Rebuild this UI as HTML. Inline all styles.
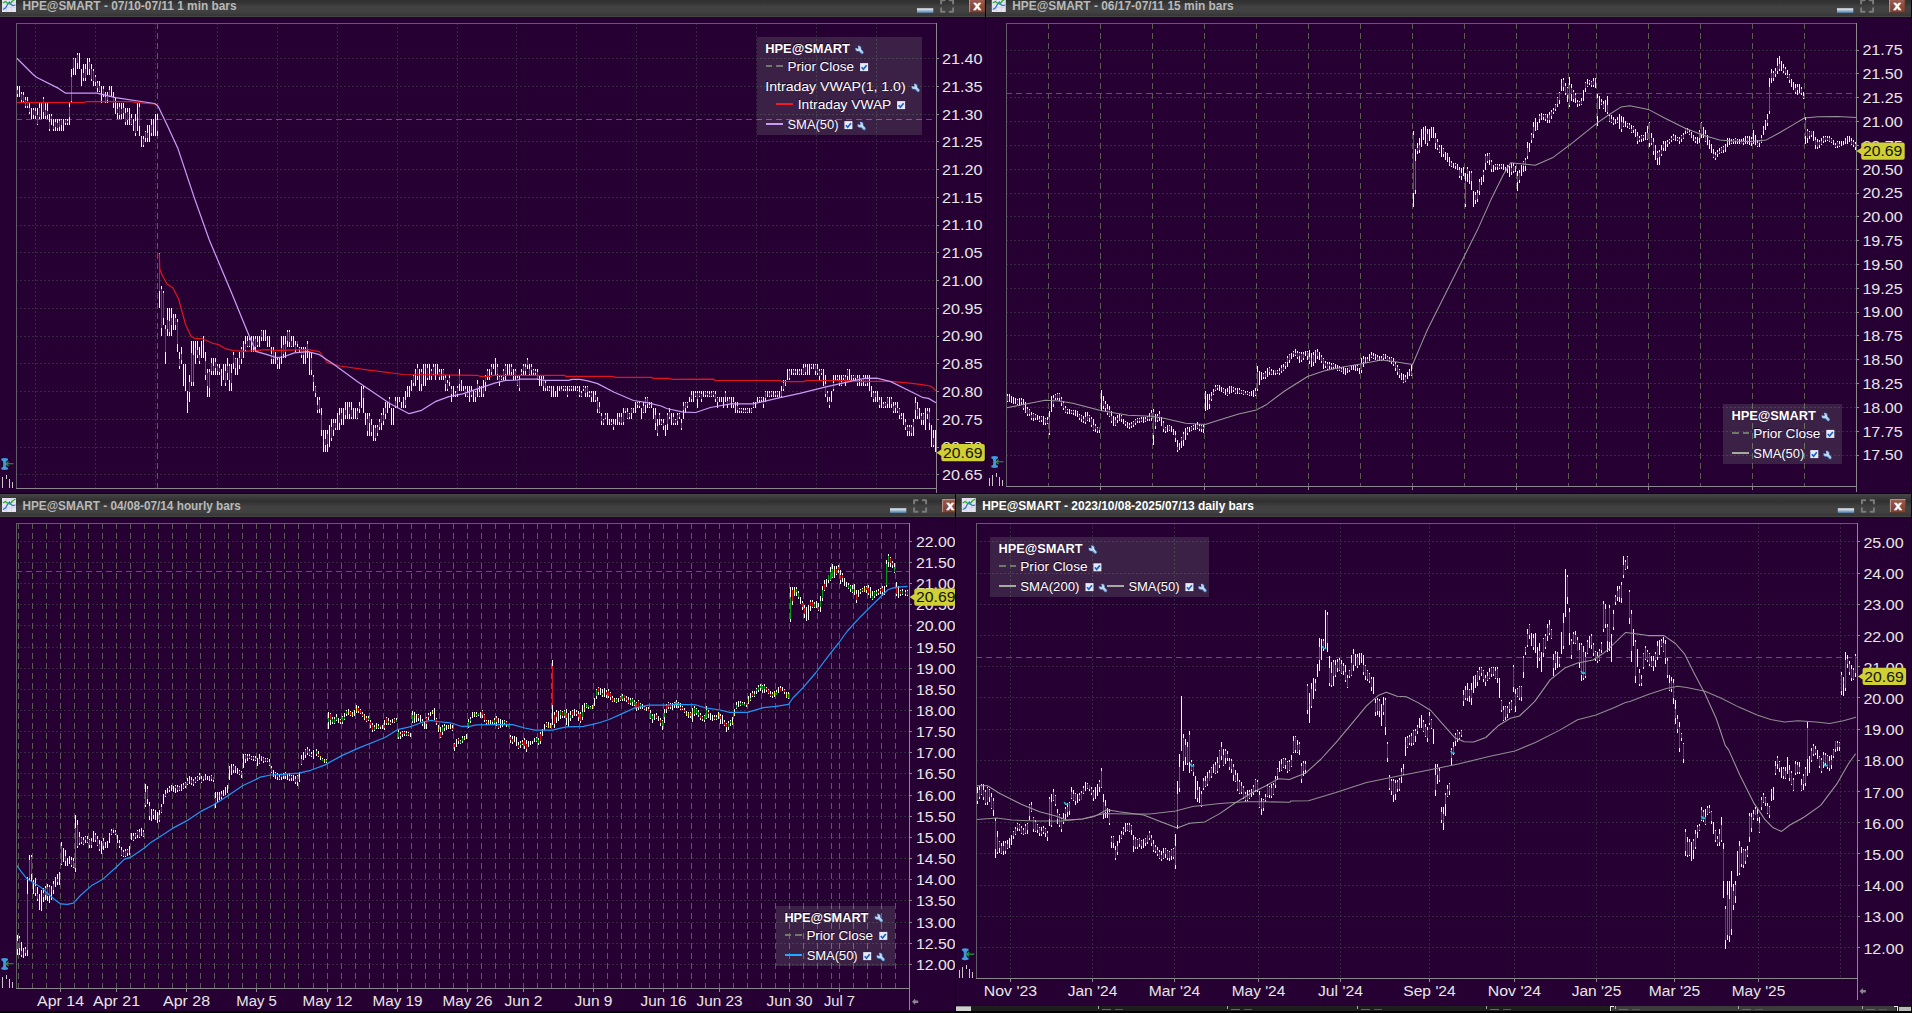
<!DOCTYPE html><html><head><meta charset="utf-8"><title>HPE charts</title><style>html,body{margin:0;padding:0;background:#260033;overflow:hidden}svg{display:block}text{font-family:"Liberation Sans", sans-serif;white-space:pre}</style></head><body>
<svg width="1912" height="1013" viewBox="0 0 1912 1013">
<rect x="0" y="0" width="1912" height="1013" fill="#260033" />
<defs><clipPath id="clip3"><rect x="0" y="494" width="955" height="519"/></clipPath></defs>
<line x1="16" y1="58.5" x2="936" y2="58.5" stroke="#35283f" stroke-width="1" stroke-dasharray="2 2" shape-rendering="crispEdges"/>
<line x1="16" y1="86.5" x2="936" y2="86.5" stroke="#35283f" stroke-width="1" stroke-dasharray="2 2" shape-rendering="crispEdges"/>
<line x1="16" y1="114.5" x2="936" y2="114.5" stroke="#35283f" stroke-width="1" stroke-dasharray="2 2" shape-rendering="crispEdges"/>
<line x1="16" y1="141.5" x2="936" y2="141.5" stroke="#35283f" stroke-width="1" stroke-dasharray="2 2" shape-rendering="crispEdges"/>
<line x1="16" y1="169.5" x2="936" y2="169.5" stroke="#35283f" stroke-width="1" stroke-dasharray="2 2" shape-rendering="crispEdges"/>
<line x1="16" y1="197.5" x2="936" y2="197.5" stroke="#35283f" stroke-width="1" stroke-dasharray="2 2" shape-rendering="crispEdges"/>
<line x1="16" y1="225.5" x2="936" y2="225.5" stroke="#35283f" stroke-width="1" stroke-dasharray="2 2" shape-rendering="crispEdges"/>
<line x1="16" y1="252.5" x2="936" y2="252.5" stroke="#35283f" stroke-width="1" stroke-dasharray="2 2" shape-rendering="crispEdges"/>
<line x1="16" y1="280.5" x2="936" y2="280.5" stroke="#35283f" stroke-width="1" stroke-dasharray="2 2" shape-rendering="crispEdges"/>
<line x1="16" y1="308.5" x2="936" y2="308.5" stroke="#35283f" stroke-width="1" stroke-dasharray="2 2" shape-rendering="crispEdges"/>
<line x1="16" y1="336.5" x2="936" y2="336.5" stroke="#35283f" stroke-width="1" stroke-dasharray="2 2" shape-rendering="crispEdges"/>
<line x1="16" y1="363.5" x2="936" y2="363.5" stroke="#35283f" stroke-width="1" stroke-dasharray="2 2" shape-rendering="crispEdges"/>
<line x1="16" y1="391.5" x2="936" y2="391.5" stroke="#35283f" stroke-width="1" stroke-dasharray="2 2" shape-rendering="crispEdges"/>
<line x1="16" y1="419.5" x2="936" y2="419.5" stroke="#35283f" stroke-width="1" stroke-dasharray="2 2" shape-rendering="crispEdges"/>
<line x1="16" y1="447.5" x2="936" y2="447.5" stroke="#35283f" stroke-width="1" stroke-dasharray="2 2" shape-rendering="crispEdges"/>
<line x1="16" y1="474.5" x2="936" y2="474.5" stroke="#35283f" stroke-width="1" stroke-dasharray="2 2" shape-rendering="crispEdges"/>
<line x1="35.5" y1="23" x2="35.5" y2="488" stroke="#35283f" stroke-width="1" stroke-dasharray="2 2" shape-rendering="crispEdges"/>
<line x1="95.5" y1="23" x2="95.5" y2="488" stroke="#35283f" stroke-width="1" stroke-dasharray="2 2" shape-rendering="crispEdges"/>
<line x1="155.5" y1="23" x2="155.5" y2="488" stroke="#35283f" stroke-width="1" stroke-dasharray="2 2" shape-rendering="crispEdges"/>
<line x1="217.5" y1="23" x2="217.5" y2="488" stroke="#35283f" stroke-width="1" stroke-dasharray="2 2" shape-rendering="crispEdges"/>
<line x1="277.5" y1="23" x2="277.5" y2="488" stroke="#35283f" stroke-width="1" stroke-dasharray="2 2" shape-rendering="crispEdges"/>
<line x1="337.5" y1="23" x2="337.5" y2="488" stroke="#35283f" stroke-width="1" stroke-dasharray="2 2" shape-rendering="crispEdges"/>
<line x1="397.5" y1="23" x2="397.5" y2="488" stroke="#35283f" stroke-width="1" stroke-dasharray="2 2" shape-rendering="crispEdges"/>
<line x1="457.5" y1="23" x2="457.5" y2="488" stroke="#35283f" stroke-width="1" stroke-dasharray="2 2" shape-rendering="crispEdges"/>
<line x1="516.5" y1="23" x2="516.5" y2="488" stroke="#35283f" stroke-width="1" stroke-dasharray="2 2" shape-rendering="crispEdges"/>
<line x1="576.5" y1="23" x2="576.5" y2="488" stroke="#35283f" stroke-width="1" stroke-dasharray="2 2" shape-rendering="crispEdges"/>
<line x1="636.5" y1="23" x2="636.5" y2="488" stroke="#35283f" stroke-width="1" stroke-dasharray="2 2" shape-rendering="crispEdges"/>
<line x1="696.5" y1="23" x2="696.5" y2="488" stroke="#35283f" stroke-width="1" stroke-dasharray="2 2" shape-rendering="crispEdges"/>
<line x1="756.5" y1="23" x2="756.5" y2="488" stroke="#35283f" stroke-width="1" stroke-dasharray="2 2" shape-rendering="crispEdges"/>
<line x1="816.5" y1="23" x2="816.5" y2="488" stroke="#35283f" stroke-width="1" stroke-dasharray="2 2" shape-rendering="crispEdges"/>
<line x1="876.5" y1="23" x2="876.5" y2="488" stroke="#35283f" stroke-width="1" stroke-dasharray="2 2" shape-rendering="crispEdges"/>
<line x1="157.5" y1="23" x2="157.5" y2="488" stroke="#5b5b53" stroke-width="1" stroke-dasharray="6 4" shape-rendering="crispEdges"/>
<line x1="16" y1="119.5" x2="936" y2="119.5" stroke="#585a50" stroke-width="1" stroke-dasharray="6 4" shape-rendering="crispEdges"/>
<path d="M17 86v11M19 86v11M21 92v11M23 92v11M25 97v11M27 97v11M29 103v11M31 108v11M33 108v11M35 108v11M37 108v17M39 103v16M41 103v16M43 97v22M45 103v16M47 103v16M49 114v17M51 114v11M53 119v12M55 119v12M57 119v12M59 119v12M61 119v12M63 119v12M65 119v6M67 119v6M69 103v22M71 69v34M73 58v17M75 58v17M77 53v16M79 53v16M81 69v17M83 64v17M85 64v17M87 58v17M89 58v17M91 64v17M93 69v17M95 75v11M97 81v11M99 81v11M101 86v17M103 86v11M105 92v11M107 92v11M109 86v11M111 86v11M113 92v16M115 97v17M117 103v16M119 103v16M121 103v16M123 103v16M125 108v17M127 108v17M129 108v17M131 114v11M133 119v12M135 114v22M137 103v28M139 103v33M141 136v11M143 136v11M145 131v11M147 125v17M149 125v17M151 119v17M153 119v17M155 114v22M157 114v22M159 253v55M161 286v50M163 291v34M165 325v39M167 308v28M169 308v28M171 308v28M173 314v16M175 314v16M177 319v33M179 352v17M181 347v17M183 364v22M185 364v27M187 391v22M189 375v27M191 341v45M193 341v45M195 341v23M197 341v17M199 347v17M201 341v17M203 336v22M205 352v28M207 369v28M209 369v28M211 358v17M213 358v17M215 358v17M217 364v11M219 364v11M221 369v17M223 364v16M225 364v22M227 358v22M229 364v27M231 364v27M233 352v17M235 358v17M237 358v17M239 352v17M241 347v17M243 341v17M245 336v16M247 336v11M249 336v11M251 336v16M253 336v16M255 336v16M257 336v11M259 336v11M261 330v11M263 330v11M265 330v11M267 336v11M269 336v11M271 347v17M273 347v17M275 352v12M277 358v11M279 358v11M281 336v28M283 336v22M285 336v22M287 330v17M289 330v17M291 336v11M293 336v11M295 341v11M297 341v6M299 347v5M301 347v11M303 347v17M305 347v17M307 341v17M309 352v23M311 352v23M313 375v16M315 386v11M317 397v16M319 397v16M321 408v28M323 430v22M325 430v22M327 430v22M329 425v22M331 419v22M333 419v17M335 419v11M337 413v17M339 408v22M341 408v17M343 408v17M345 402v17M347 402v17M349 402v17M351 402v17M353 408v11M355 408v11M357 408v11M359 402v11M361 386v22M363 386v27M365 413v12M367 413v23M369 413v23M371 419v17M373 425v16M375 425v16M377 425v11M379 419v11M381 413v17M383 408v17M385 402v17M387 402v11M389 397v11M391 408v17M393 408v17M395 397v11M397 397v11M399 397v5M401 402v6M403 397v11M405 391v17M407 386v11M409 386v11M411 380v11M413 375v11M415 369v17M417 364v16M419 369v22M421 369v22M423 364v22M425 364v22M427 364v16M429 364v16M431 369v11M433 364v11M435 364v16M437 364v11M439 369v11M441 369v11M443 369v11M445 375v16M447 380v11M449 375v11M451 386v16M453 386v11M455 391v6M457 386v11M459 369v22M461 380v11M463 386v5M465 386v11M467 386v11M469 386v16M471 386v11M473 391v11M475 391v11M477 380v17M479 386v11M481 386v11M483 380v17M485 375v16M487 369v11M489 369v11M491 364v11M493 364v5M495 358v17M497 364v16M499 375v11M501 375v5M503 369v11M505 364v16M507 364v11M509 364v11M511 364v11M513 369v11M515 369v11M517 375v11M519 375v16M521 369v6M523 364v11M525 364v11M527 358v11M529 364v11M531 364v11M533 369v6M535 369v6M537 369v11M539 375v11M541 375v11M543 375v16M545 380v11M547 386v5M549 386v5M551 386v11M553 386v11M555 391v6M557 386v11M559 386v5M561 386v5M563 386v5M565 386v5M567 386v11M569 386v5M571 386v5M573 386v5M575 386v5M577 386v5M579 386v11M581 391v6M583 386v5M585 386v11M587 386v11M589 391v6M591 391v11M593 391v11M595 391v11M597 397v16M599 402v11M601 413v12M603 419v6M605 413v6M607 413v12M609 419v6M611 419v6M613 419v11M615 419v6M617 413v12M619 413v12M621 413v12M623 408v17M625 408v5M627 408v11M629 413v6M631 408v11M633 408v5M635 402v11M637 402v6M639 402v6M641 408v11M643 402v11M645 397v16M647 397v11M649 402v6M651 402v6M653 408v11M655 408v22M657 419v17M659 413v12M661 419v6M663 419v11M665 425v11M667 413v17M669 408v11M671 413v12M673 413v12M675 419v6M677 413v12M679 413v6M681 419v11M683 402v17M685 402v11M687 402v6M689 397v5M691 391v11M693 391v11M695 391v6M697 391v17M699 391v6M701 391v11M703 391v6M705 391v6M707 391v6M709 391v6M711 391v6M713 391v6M715 391v11M717 397v11M719 397v5M721 397v5M723 397v11M725 391v11M727 397v11M729 397v5M731 397v11M733 397v11M735 402v11M737 402v11M739 408v5M741 408v5M743 408v5M745 408v5M747 408v5M749 408v5M751 408v5M753 402v6M755 402v6M757 397v5M759 397v5M761 397v5M763 397v11M765 391v11M767 391v6M769 391v6M771 391v6M773 391v6M775 391v6M777 391v6M779 391v6M781 386v11M783 380v11M785 380v6M787 369v11M789 369v11M791 369v6M793 369v6M795 369v6M797 369v6M799 369v6M801 369v6M803 364v11M805 364v11M807 364v11M809 364v11M811 364v5M813 364v5M815 364v11M817 364v11M819 369v11M821 369v6M823 369v17M825 375v22M827 391v11M829 397v11M831 391v11M833 375v16M835 375v5M837 375v5M839 375v11M841 375v11M843 375v5M845 375v11M847 369v11M849 369v11M851 375v5M853 375v5M855 375v5M857 375v11M859 375v11M861 380v6M863 375v11M865 375v11M867 375v11M869 375v16M871 386v11M873 391v11M875 391v11M877 391v11M879 397v11M881 397v11M883 402v6M885 402v6M887 397v11M889 397v11M891 397v11M893 402v11M895 402v11M897 402v11M899 408v11M901 413v6M903 413v12M905 419v11M907 425v11M909 425v11M911 425v11M913 419v17M915 397v22M917 402v17M919 408v11M921 413v12M923 413v12M925 408v22M927 408v11M929 408v22M931 425v22M933 430v17M935 430v22" stroke="#ffffff" stroke-width="1" fill="none" shape-rendering="crispEdges" transform="translate(0.5,0)"/>
<path d="M25 100v6M35 111v5M45 110v6M53 126v3M59 121v6M61 120v5M65 120v3M67 121v2M69 107v10M71 77v24M73 59v9M85 69v9M89 62v7M91 69v10M97 83v5M105 97v4M107 96v4M123 108v5M143 139v6M145 132v6M147 133v5M151 125v8M167 320v9M169 321v11M171 318v7M181 354v6M191 353v29M193 355v27M197 350v5M209 372v16M211 363v8M213 366v5M217 366v5M227 366v7M229 366v14M235 359v9M239 358v7M253 341v5M255 339v8M257 342v3M261 331v6M273 350v9M277 360v4M281 348v8M285 344v8M287 332v9M289 332v10M297 341v3M303 349v6M307 344v5M313 377v5M315 387v6M321 415v15M327 434v10M345 410v5M357 411v7M359 406v3M369 416v7M377 427v6M379 422v5M383 415v6M385 408v6M395 401v6M405 400v5M455 393v3M475 392v5M477 384v5M483 388v6M487 371v6M491 367v5M501 377v2M519 380v8M521 372v2M523 366v5M525 367v4M527 360v5M529 369v5M533 370v3M537 372v7M543 379v7M549 388v2M561 389v2M565 387v2M569 387v2M571 387v2M585 388v5M587 387v5M597 401v8M599 407v5M603 420v3M605 415v3M621 417v6M629 414v3M637 403v2M643 406v6M645 399v6M647 398v6M655 415v8M657 426v7M659 415v4M667 415v9M669 412v5M677 415v6M679 414v3M681 423v5M683 406v4M685 403v5M687 403v3M691 395v4M697 393v6M705 392v3M707 393v2M709 394v2M711 393v3M725 393v4M751 409v3M753 404v3M761 398v2M765 392v6M769 393v3M771 392v3M775 393v2M777 392v3M781 391v5M789 371v7M793 370v3M795 371v2M799 371v3M837 377v2M841 382v3M843 376v2M845 377v6M857 378v5M861 381v2M863 377v5M873 393v6M875 393v4M883 404v3M885 403v3M887 398v6M893 406v5M911 427v6M913 422v5M915 403v7M917 409v7M923 414v6M929 412v11" stroke="#0a9a1a" stroke-width="1" fill="none" shape-rendering="crispEdges" transform="translate(0.5,0)"/>
<path d="M17 90v4M21 94v6M23 95v6M27 101v5M29 108v4M33 110v5M37 115v9M39 108v9M43 99v13M47 111v4M49 122v7M51 116v3M55 122v5M57 123v5M77 55v8M83 73v5M93 71v10M95 77v5M99 86v5M103 89v5M109 90v6M113 97v6M117 109v4M119 107v8M121 109v5M125 113v9M127 112v8M131 118v6M135 121v12M139 107v19M157 120v11M159 259v32M161 289v39M163 293v25M165 329v23M175 318v7M177 322v22M179 359v7M189 382v10M199 355v6M205 361v14M207 373v13M215 362v6M219 368v4M225 371v12M231 373v10M233 355v8M241 349v10M245 344v6M247 341v5M249 340v6M271 354v5M283 345v9M291 341v5M295 345v5M299 348v2M301 349v6M311 358v12M317 405v5M319 400v9M325 439v6M331 427v11M333 423v7M335 423v5M339 415v8M341 413v6M349 407v7M351 410v7M363 389v9M367 419v12M371 425v7M375 428v10M381 415v8M389 399v4M413 376v7M417 368v8M421 372v12M427 368v10M431 371v5M433 367v7M439 372v5M443 370v6M445 378v6M447 383v6M449 378v4M451 389v5M457 388v6M459 376v8M465 389v5M467 393v3M471 391v4M479 392v4M485 377v5M497 367v7M499 377v5M503 371v6M505 366v8M511 367v5M515 371v5M517 378v7M531 367v3M535 371v2M545 383v5M563 387v2M567 391v4M577 388v2M579 392v3M581 393v3M583 387v2M589 393v2M591 393v4M595 395v5M601 416v5M611 422v2M613 424v3M619 417v5M623 413v9M625 408v3M627 412v6M631 409v4M639 403v3M649 405v2M661 421v3M663 423v3M673 417v6M675 420v3M695 393v3M699 393v3M701 394v5M713 392v3M715 394v5M717 398v4M727 401v3M729 399v3M733 402v3M737 406v4M739 409v2M741 409v2M743 410v2M745 410v2M747 409v3M759 398v2M763 401v3M783 383v6M803 368v6M805 367v5M811 365v2M815 365v6M817 369v4M819 371v5M821 370v3M825 384v10M827 393v4M829 401v4M833 383v6M839 380v3M847 370v6M853 376v2M855 375v3M865 379v5M867 378v5M879 400v5M891 399v5M895 405v3M897 408v3M899 409v6M901 416v2M905 422v5M907 427v4M909 427v4M921 416v4M927 411v3M933 438v7" stroke="#d2141e" stroke-width="1" fill="none" shape-rendering="crispEdges" transform="translate(0.5,0)"/>
<path d="M63 123v3M115 100v3M129 114v3M133 123v3M137 114v3M141 137v3M153 124v3M187 400v3M195 348v3M203 342v3M221 373v3M243 344v3M251 338v3M265 334v3M267 340v3M279 359v3M305 349v3M323 439v3M397 403v3M399 399v2M403 398v3M407 389v3M415 372v3M423 368v3M425 366v3M435 366v3M441 373v3M461 383v3M469 393v3M495 361v3M509 367v3M547 387v2M551 388v3M559 386v2M573 387v2M609 420v2M617 417v3M633 409v3M651 403v3M671 417v3M719 397v2M731 400v3M735 406v3M767 393v2M773 394v2M785 382v3M801 371v2M807 367v3M813 366v2M851 376v3M859 376v3M871 389v3M919 410v3" stroke="#f0e010" stroke-width="1" fill="none" shape-rendering="crispEdges" transform="translate(0.5,0)"/>
<polyline points="16.9,102.6 83.5,102.6 86.2,101.7 131.5,101.7 136.8,102.6 154.6,104.0 157.0,104.5" fill="none" stroke="#e3141e" stroke-width="1.2" stroke-linejoin="round" />
<polyline points="159.3,253.6 159.8,269.5 162.7,276.3 167.3,284.3 172.9,287.7 178.6,299.0 185.4,324.0 191.1,336.5 194.5,338.3 202.5,338.8 212.7,343.3 218.4,344.5 225.2,348.6 233.1,350.6 244.5,351.3 267.2,349.7 276.3,350.6 287.6,350.2 308.1,349.7 319.4,351.7 327.4,362.6 339.9,366.0 367.1,369.9 403.5,374.5 458.0,375.1 477.3,375.3 480.0,376.3 491.0,376.3 493.2,375.3 564.4,375.3 565.8,376.3 612.8,376.3 615.5,377.4 651.5,377.4 653.5,378.4 669.4,378.4 671.5,379.3 713.5,379.2 715.1,380.5 780.2,380.5 781.8,381.6 803.8,381.6 806.1,380.5 851.6,380.5 856.3,381.3 890.8,381.3 909.7,383.2 922.2,384.7 930.1,386.0 933.2,387.9 935.9,391.0" fill="none" stroke="#e3141e" stroke-width="1.2" stroke-linejoin="round" />
<polyline points="16.9,58.2 32.9,74.2 36.4,77.2 58.6,88.4 65.7,93.2 96.8,93.2 115.5,97.6 154.6,103.5 158.1,106.2 167.0,124.8 177.7,147.9 194.6,198.6 209.3,240.0 230.8,291.0 249.0,335.4 255.8,351.3 267.2,354.7 276.3,357.6 283.0,357.0 294.4,352.9 308.0,351.7 319.4,354.7 333.0,363.8 358.0,382.0 389.8,403.5 409.1,413.7 421.6,410.3 435.2,401.7 448.9,396.7 462.8,393.9 475.9,389.4 494.6,383.2 505.7,380.4 517.4,380.0 520.2,379.1 536.8,379.1 545.0,380.4 568.5,380.4 572.0,379.3 579.6,379.3 587.9,380.9 597.6,383.6 614.2,392.2 633.5,400.5 647.3,402.6 661.1,406.0 666.7,408.5 683.3,412.2 695.7,412.5 710.4,407.5 730.8,403.9 752.8,403.9 777.9,398.1 799.8,393.4 824.9,387.1 846.9,382.1 864.2,378.4 876.7,378.1 890.8,381.6 909.7,391.0 922.2,397.3 928.5,398.4 936.0,402.8" fill="none" stroke="#c79cf5" stroke-width="1.25" stroke-linejoin="round" />
<line x1="16" y1="23.5" x2="937" y2="23.5" stroke="#625b68" stroke-width="1" shape-rendering="crispEdges"/>
<line x1="16.5" y1="23" x2="16.5" y2="489" stroke="#625b68" stroke-width="1" shape-rendering="crispEdges"/>
<line x1="16" y1="488.5" x2="937" y2="488.5" stroke="#8a878d" stroke-width="1" shape-rendering="crispEdges"/>
<line x1="936.5" y1="23" x2="936.5" y2="494" stroke="#8a878d" stroke-width="1" shape-rendering="crispEdges"/>
<line x1="937" y1="58.5" x2="939" y2="58.5" stroke="#8a878d" stroke-width="1" shape-rendering="crispEdges"/>
<text x="942.0" y="64.0" font-size="14" fill="#e6e6e6" textLength="40.6" lengthAdjust="spacingAndGlyphs" text-anchor="start" >21.40</text>
<line x1="937" y1="86.5" x2="939" y2="86.5" stroke="#8a878d" stroke-width="1" shape-rendering="crispEdges"/>
<text x="942.0" y="91.7" font-size="14" fill="#e6e6e6" textLength="40.6" lengthAdjust="spacingAndGlyphs" text-anchor="start" >21.35</text>
<line x1="937" y1="114.5" x2="939" y2="114.5" stroke="#8a878d" stroke-width="1" shape-rendering="crispEdges"/>
<text x="942.0" y="119.5" font-size="14" fill="#e6e6e6" textLength="40.6" lengthAdjust="spacingAndGlyphs" text-anchor="start" >21.30</text>
<line x1="937" y1="141.5" x2="939" y2="141.5" stroke="#8a878d" stroke-width="1" shape-rendering="crispEdges"/>
<text x="942.0" y="147.2" font-size="14" fill="#e6e6e6" textLength="40.6" lengthAdjust="spacingAndGlyphs" text-anchor="start" >21.25</text>
<line x1="937" y1="169.5" x2="939" y2="169.5" stroke="#8a878d" stroke-width="1" shape-rendering="crispEdges"/>
<text x="942.0" y="175.0" font-size="14" fill="#e6e6e6" textLength="40.6" lengthAdjust="spacingAndGlyphs" text-anchor="start" >21.20</text>
<line x1="937" y1="197.5" x2="939" y2="197.5" stroke="#8a878d" stroke-width="1" shape-rendering="crispEdges"/>
<text x="942.0" y="202.7" font-size="14" fill="#e6e6e6" textLength="40.6" lengthAdjust="spacingAndGlyphs" text-anchor="start" >21.15</text>
<line x1="937" y1="225.5" x2="939" y2="225.5" stroke="#8a878d" stroke-width="1" shape-rendering="crispEdges"/>
<text x="942.0" y="230.4" font-size="14" fill="#e6e6e6" textLength="40.6" lengthAdjust="spacingAndGlyphs" text-anchor="start" >21.10</text>
<line x1="937" y1="252.5" x2="939" y2="252.5" stroke="#8a878d" stroke-width="1" shape-rendering="crispEdges"/>
<text x="942.0" y="258.2" font-size="14" fill="#e6e6e6" textLength="40.6" lengthAdjust="spacingAndGlyphs" text-anchor="start" >21.05</text>
<line x1="937" y1="280.5" x2="939" y2="280.5" stroke="#8a878d" stroke-width="1" shape-rendering="crispEdges"/>
<text x="942.0" y="285.9" font-size="14" fill="#e6e6e6" textLength="40.6" lengthAdjust="spacingAndGlyphs" text-anchor="start" >21.00</text>
<line x1="937" y1="308.5" x2="939" y2="308.5" stroke="#8a878d" stroke-width="1" shape-rendering="crispEdges"/>
<text x="942.0" y="313.7" font-size="14" fill="#e6e6e6" textLength="40.6" lengthAdjust="spacingAndGlyphs" text-anchor="start" >20.95</text>
<line x1="937" y1="336.5" x2="939" y2="336.5" stroke="#8a878d" stroke-width="1" shape-rendering="crispEdges"/>
<text x="942.0" y="341.4" font-size="14" fill="#e6e6e6" textLength="40.6" lengthAdjust="spacingAndGlyphs" text-anchor="start" >20.90</text>
<line x1="937" y1="363.5" x2="939" y2="363.5" stroke="#8a878d" stroke-width="1" shape-rendering="crispEdges"/>
<text x="942.0" y="369.1" font-size="14" fill="#e6e6e6" textLength="40.6" lengthAdjust="spacingAndGlyphs" text-anchor="start" >20.85</text>
<line x1="937" y1="391.5" x2="939" y2="391.5" stroke="#8a878d" stroke-width="1" shape-rendering="crispEdges"/>
<text x="942.0" y="396.9" font-size="14" fill="#e6e6e6" textLength="40.6" lengthAdjust="spacingAndGlyphs" text-anchor="start" >20.80</text>
<line x1="937" y1="419.5" x2="939" y2="419.5" stroke="#8a878d" stroke-width="1" shape-rendering="crispEdges"/>
<text x="942.0" y="424.6" font-size="14" fill="#e6e6e6" textLength="40.6" lengthAdjust="spacingAndGlyphs" text-anchor="start" >20.75</text>
<line x1="937" y1="447.5" x2="939" y2="447.5" stroke="#8a878d" stroke-width="1" shape-rendering="crispEdges"/>
<text x="942.0" y="452.4" font-size="14" fill="#e6e6e6" textLength="40.6" lengthAdjust="spacingAndGlyphs" text-anchor="start" >20.70</text>
<line x1="937" y1="474.5" x2="939" y2="474.5" stroke="#8a878d" stroke-width="1" shape-rendering="crispEdges"/>
<text x="942.0" y="480.1" font-size="14" fill="#e6e6e6" textLength="40.6" lengthAdjust="spacingAndGlyphs" text-anchor="start" >20.65</text>
<path d="M936.5 452.7l4.8 -3.2v-3.4q0 -2 2 -2h39.5q2 0 2 2v13.2q0 2 -2 2h-39.5q-2 0 -2 -2v-3.4z" fill="#cfcf36"/>
<text x="943.0" y="458.0" font-size="14" fill="#141400" textLength="39.4" lengthAdjust="spacingAndGlyphs" text-anchor="start" >20.69</text>
<g transform="translate(1,458)"><path d="M0.3 0.8Q3.5 -0.8 7 0.8L7 2.2Q5.2 2.6 5 4V8Q5.2 9.4 7 9.8L7 11.2Q3.5 12.8 0.3 11.2L0.3 9.8Q2 9.4 2.2 8V4Q2 2.6 0.3 2.2Z" fill="#3f9bdc"/><path d="M12.5 5.8H5M7.6 3.6L5 5.8L7.6 8" fill="none" stroke="#14a83c" stroke-width="1.1"/></g>
<rect x="2" y="477" width="1" height="11" fill="#c9c9c9" shape-rendering="crispEdges"/>
<rect x="6" y="475" width="1" height="4" fill="#c9c9c9" shape-rendering="crispEdges"/>
<rect x="9" y="479" width="1" height="9" fill="#c9c9c9" shape-rendering="crispEdges"/>
<rect x="12" y="482" width="1" height="6" fill="#c9c9c9" shape-rendering="crispEdges"/>
<rect x="757" y="37" width="165" height="98" fill="#cdf5c0" fill-opacity="0.135"/>
<text x="764.7" y="52.1" font-size="12.2" fill="#1a0026" font-weight="bold" textLength="84.5" lengthAdjust="spacingAndGlyphs" text-anchor="start" >HPE@SMART</text>
<text x="765.3" y="52.7" font-size="12.2" fill="#ffffff" font-weight="bold" textLength="84.5" lengthAdjust="spacingAndGlyphs" text-anchor="start" >HPE@SMART</text>
<g transform="translate(855.2,45.4)"><path d="M3.2 3.2L6.9 7" stroke="#3b66a4" stroke-width="3.6" stroke-linecap="round" fill="none"/><circle cx="3.1" cy="3.1" r="3.3" fill="#3b66a4"/><path d="M3.2 3.2L6.9 7" stroke="#9fc6ee" stroke-width="2.3" stroke-linecap="round" fill="none"/><circle cx="3.1" cy="3.1" r="2.6" fill="#b5d5f5"/><path d="M3.3 3.3L-0.8 2.4L2.4 -0.8Z" fill="#3c2048"/><path d="M4.2 3.4L6.6 5.9" stroke="#e6f2ff" stroke-width="0.8" stroke-linecap="round" fill="none"/></g>
<line x1="765.7" y1="66.1" x2="782.7" y2="66.1" stroke="#6f7a68" stroke-width="1.6" stroke-dasharray="6.5 4" shape-rendering="crispEdges"/>
<text x="786.9" y="70.2" font-size="12.2" fill="#1a0026" textLength="66.5" lengthAdjust="spacingAndGlyphs" text-anchor="start" >Prior Close</text>
<text x="787.5" y="70.8" font-size="12.2" fill="#ffffff" textLength="66.5" lengthAdjust="spacingAndGlyphs" text-anchor="start" >Prior Close</text>
<g transform="translate(859.7,62.9)"><rect x="0.4" y="0.2" width="8" height="8" fill="#e6ebf6"/><path d="M1.9 4.3L3.7 6.3L6.9 2.3" fill="none" stroke="#1a5ed6" stroke-width="1.7"/></g>
<text x="764.7" y="90.2" font-size="12.2" fill="#1a0026" textLength="140.3" lengthAdjust="spacingAndGlyphs" text-anchor="start" >Intraday VWAP(1, 1.0)</text>
<text x="765.3" y="90.8" font-size="12.2" fill="#ffffff" textLength="140.3" lengthAdjust="spacingAndGlyphs" text-anchor="start" >Intraday VWAP(1, 1.0)</text>
<g transform="translate(911.3,83.4)"><path d="M3.2 3.2L6.9 7" stroke="#3b66a4" stroke-width="3.6" stroke-linecap="round" fill="none"/><circle cx="3.1" cy="3.1" r="3.3" fill="#3b66a4"/><path d="M3.2 3.2L6.9 7" stroke="#9fc6ee" stroke-width="2.3" stroke-linecap="round" fill="none"/><circle cx="3.1" cy="3.1" r="2.6" fill="#b5d5f5"/><path d="M3.3 3.3L-0.8 2.4L2.4 -0.8Z" fill="#3c2048"/><path d="M4.2 3.4L6.6 5.9" stroke="#e6f2ff" stroke-width="0.8" stroke-linecap="round" fill="none"/></g>
<line x1="775.9" y1="103.8" x2="792.9" y2="103.8" stroke="#ee1c24" stroke-width="1.6" shape-rendering="crispEdges"/>
<text x="797.2" y="108.4" font-size="12.2" fill="#1a0026" textLength="93.5" lengthAdjust="spacingAndGlyphs" text-anchor="start" >Intraday VWAP</text>
<text x="797.8" y="109.0" font-size="12.2" fill="#ffffff" textLength="93.5" lengthAdjust="spacingAndGlyphs" text-anchor="start" >Intraday VWAP</text>
<g transform="translate(896.7,100.9)"><rect x="0.4" y="0.2" width="8" height="8" fill="#e6ebf6"/><path d="M1.9 4.3L3.7 6.3L6.9 2.3" fill="none" stroke="#1a5ed6" stroke-width="1.7"/></g>
<line x1="765.7" y1="124.2" x2="782.7" y2="124.2" stroke="#c79cf5" stroke-width="1.6" shape-rendering="crispEdges"/>
<text x="786.9" y="128.6" font-size="12.2" fill="#1a0026" textLength="51.0" lengthAdjust="spacingAndGlyphs" text-anchor="start" >SMA(50)</text>
<text x="787.5" y="129.2" font-size="12.2" fill="#ffffff" textLength="51.0" lengthAdjust="spacingAndGlyphs" text-anchor="start" >SMA(50)</text>
<g transform="translate(844.0,120.9)"><rect x="0.4" y="0.2" width="8" height="8" fill="#e6ebf6"/><path d="M1.9 4.3L3.7 6.3L6.9 2.3" fill="none" stroke="#1a5ed6" stroke-width="1.7"/></g>
<g transform="translate(857.3,121.6)"><path d="M3.2 3.2L6.9 7" stroke="#3b66a4" stroke-width="3.6" stroke-linecap="round" fill="none"/><circle cx="3.1" cy="3.1" r="3.3" fill="#3b66a4"/><path d="M3.2 3.2L6.9 7" stroke="#9fc6ee" stroke-width="2.3" stroke-linecap="round" fill="none"/><circle cx="3.1" cy="3.1" r="2.6" fill="#b5d5f5"/><path d="M3.3 3.3L-0.8 2.4L2.4 -0.8Z" fill="#3c2048"/><path d="M4.2 3.4L6.6 5.9" stroke="#e6f2ff" stroke-width="0.8" stroke-linecap="round" fill="none"/></g>
<line x1="1006" y1="50.5" x2="1856" y2="50.5" stroke="#35283f" stroke-width="1" stroke-dasharray="2 2" shape-rendering="crispEdges"/>
<line x1="1006" y1="73.5" x2="1856" y2="73.5" stroke="#35283f" stroke-width="1" stroke-dasharray="2 2" shape-rendering="crispEdges"/>
<line x1="1006" y1="97.5" x2="1856" y2="97.5" stroke="#35283f" stroke-width="1" stroke-dasharray="2 2" shape-rendering="crispEdges"/>
<line x1="1006" y1="121.5" x2="1856" y2="121.5" stroke="#35283f" stroke-width="1" stroke-dasharray="2 2" shape-rendering="crispEdges"/>
<line x1="1006" y1="145.5" x2="1856" y2="145.5" stroke="#35283f" stroke-width="1" stroke-dasharray="2 2" shape-rendering="crispEdges"/>
<line x1="1006" y1="169.5" x2="1856" y2="169.5" stroke="#35283f" stroke-width="1" stroke-dasharray="2 2" shape-rendering="crispEdges"/>
<line x1="1006" y1="193.5" x2="1856" y2="193.5" stroke="#35283f" stroke-width="1" stroke-dasharray="2 2" shape-rendering="crispEdges"/>
<line x1="1006" y1="216.5" x2="1856" y2="216.5" stroke="#35283f" stroke-width="1" stroke-dasharray="2 2" shape-rendering="crispEdges"/>
<line x1="1006" y1="240.5" x2="1856" y2="240.5" stroke="#35283f" stroke-width="1" stroke-dasharray="2 2" shape-rendering="crispEdges"/>
<line x1="1006" y1="264.5" x2="1856" y2="264.5" stroke="#35283f" stroke-width="1" stroke-dasharray="2 2" shape-rendering="crispEdges"/>
<line x1="1006" y1="288.5" x2="1856" y2="288.5" stroke="#35283f" stroke-width="1" stroke-dasharray="2 2" shape-rendering="crispEdges"/>
<line x1="1006" y1="312.5" x2="1856" y2="312.5" stroke="#35283f" stroke-width="1" stroke-dasharray="2 2" shape-rendering="crispEdges"/>
<line x1="1006" y1="335.5" x2="1856" y2="335.5" stroke="#35283f" stroke-width="1" stroke-dasharray="2 2" shape-rendering="crispEdges"/>
<line x1="1006" y1="359.5" x2="1856" y2="359.5" stroke="#35283f" stroke-width="1" stroke-dasharray="2 2" shape-rendering="crispEdges"/>
<line x1="1006" y1="383.5" x2="1856" y2="383.5" stroke="#35283f" stroke-width="1" stroke-dasharray="2 2" shape-rendering="crispEdges"/>
<line x1="1006" y1="407.5" x2="1856" y2="407.5" stroke="#35283f" stroke-width="1" stroke-dasharray="2 2" shape-rendering="crispEdges"/>
<line x1="1006" y1="431.5" x2="1856" y2="431.5" stroke="#35283f" stroke-width="1" stroke-dasharray="2 2" shape-rendering="crispEdges"/>
<line x1="1006" y1="455.5" x2="1856" y2="455.5" stroke="#35283f" stroke-width="1" stroke-dasharray="2 2" shape-rendering="crispEdges"/>
<line x1="1048.5" y1="23" x2="1048.5" y2="486" stroke="#5b5b53" stroke-width="1" stroke-dasharray="6 4" shape-rendering="crispEdges"/>
<line x1="1100.5" y1="23" x2="1100.5" y2="486" stroke="#5b5b53" stroke-width="1" stroke-dasharray="6 4" shape-rendering="crispEdges"/>
<line x1="1100.5" y1="486" x2="1100.5" y2="489.5" stroke="#8a878d" stroke-width="1" shape-rendering="crispEdges"/>
<line x1="1152.5" y1="23" x2="1152.5" y2="486" stroke="#5b5b53" stroke-width="1" stroke-dasharray="6 4" shape-rendering="crispEdges"/>
<line x1="1204.5" y1="23" x2="1204.5" y2="486" stroke="#5b5b53" stroke-width="1" stroke-dasharray="6 4" shape-rendering="crispEdges"/>
<line x1="1204.5" y1="486" x2="1204.5" y2="489.5" stroke="#8a878d" stroke-width="1" shape-rendering="crispEdges"/>
<line x1="1256.5" y1="23" x2="1256.5" y2="486" stroke="#5b5b53" stroke-width="1" stroke-dasharray="6 4" shape-rendering="crispEdges"/>
<line x1="1308.5" y1="23" x2="1308.5" y2="486" stroke="#5b5b53" stroke-width="1" stroke-dasharray="6 4" shape-rendering="crispEdges"/>
<line x1="1308.5" y1="486" x2="1308.5" y2="489.5" stroke="#8a878d" stroke-width="1" shape-rendering="crispEdges"/>
<line x1="1360.5" y1="23" x2="1360.5" y2="486" stroke="#5b5b53" stroke-width="1" stroke-dasharray="6 4" shape-rendering="crispEdges"/>
<line x1="1412.5" y1="23" x2="1412.5" y2="486" stroke="#5b5b53" stroke-width="1" stroke-dasharray="6 4" shape-rendering="crispEdges"/>
<line x1="1412.5" y1="486" x2="1412.5" y2="489.5" stroke="#8a878d" stroke-width="1" shape-rendering="crispEdges"/>
<line x1="1464.5" y1="23" x2="1464.5" y2="486" stroke="#5b5b53" stroke-width="1" stroke-dasharray="6 4" shape-rendering="crispEdges"/>
<line x1="1516.5" y1="23" x2="1516.5" y2="486" stroke="#5b5b53" stroke-width="1" stroke-dasharray="6 4" shape-rendering="crispEdges"/>
<line x1="1516.5" y1="486" x2="1516.5" y2="489.5" stroke="#8a878d" stroke-width="1" shape-rendering="crispEdges"/>
<line x1="1568.5" y1="23" x2="1568.5" y2="486" stroke="#5b5b53" stroke-width="1" stroke-dasharray="6 4" shape-rendering="crispEdges"/>
<line x1="1596.5" y1="23" x2="1596.5" y2="486" stroke="#5b5b53" stroke-width="1" stroke-dasharray="6 4" shape-rendering="crispEdges"/>
<line x1="1648.5" y1="23" x2="1648.5" y2="486" stroke="#5b5b53" stroke-width="1" stroke-dasharray="6 4" shape-rendering="crispEdges"/>
<line x1="1648.5" y1="486" x2="1648.5" y2="489.5" stroke="#8a878d" stroke-width="1" shape-rendering="crispEdges"/>
<line x1="1700.5" y1="23" x2="1700.5" y2="486" stroke="#5b5b53" stroke-width="1" stroke-dasharray="6 4" shape-rendering="crispEdges"/>
<line x1="1752.5" y1="23" x2="1752.5" y2="486" stroke="#5b5b53" stroke-width="1" stroke-dasharray="6 4" shape-rendering="crispEdges"/>
<line x1="1752.5" y1="486" x2="1752.5" y2="489.5" stroke="#8a878d" stroke-width="1" shape-rendering="crispEdges"/>
<line x1="1804.5" y1="23" x2="1804.5" y2="486" stroke="#5b5b53" stroke-width="1" stroke-dasharray="6 4" shape-rendering="crispEdges"/>
<line x1="1006" y1="93.5" x2="1856" y2="93.5" stroke="#585a50" stroke-width="1" stroke-dasharray="6 4" shape-rendering="crispEdges"/>
<path d="M1007 394v8M1009 394v8M1011 396v7M1013 397v7M1015 398v6M1017 399v6M1019 398v8M1021 398v7M1023 399v11M1025 402v11M1027 407v9M1029 409v7M1031 412v8M1033 413v8M1035 414v6M1037 415v5M1039 416v6M1041 416v6M1043 416v9M1045 418v7M1047 417v7M1049 411v24M1051 396v16M1053 395v12M1055 394v6M1057 393v7M1059 393v8M1061 397v9M1063 401v9M1065 406v7M1067 409v5M1069 409v5M1071 410v4M1073 410v5M1075 410v6M1077 411v6M1079 414v6M1081 415v7M1083 416v7M1085 412v12M1087 412v9M1089 415v7M1091 417v10M1093 419v12M1095 424v8M1097 427v6M1099 427v6M1101 390v21M1103 396v13M1105 401v10M1107 404v11M1109 406v11M1111 411v12M1113 416v10M1115 417v9M1117 415v8M1119 414v7M1121 415v7M1123 419v5M1125 421v5M1127 422v6M1129 423v6M1131 422v6M1133 421v6M1135 419v6M1137 418v5M1139 418v5M1141 417v5M1143 417v6M1145 417v5M1147 416v5M1149 413v8M1151 410v11M1153 409v36M1155 414v15M1157 414v8M1159 411v10M1161 417v9M1163 421v11M1165 427v6M1167 425v7M1169 425v6M1171 426v6M1173 429v6M1175 431v11M1177 440v12M1179 443v7M1181 437v11M1183 432v14M1185 428v12M1187 427v8M1189 427v5M1191 426v5M1193 425v5M1195 424v6M1197 422v7M1199 424v7M1201 425v7M1203 425v8M1205 391v20M1207 394v16M1209 394v15M1211 392v9M1213 389v6M1215 385v6M1217 385v5M1219 385v6M1221 387v5M1223 388v5M1225 389v6M1227 388v8M1229 386v8M1231 386v7M1233 387v5M1235 388v6M1237 388v6M1239 388v6M1241 390v4M1243 390v5M1245 391v4M1247 391v4M1249 392v4M1251 391v5M1253 390v7M1255 388v8M1257 366v25M1259 371v14M1261 372v8M1263 373v6M1265 371v8M1267 368v9M1269 367v8M1271 369v6M1273 370v5M1275 370v5M1277 370v4M1279 368v7M1281 365v8M1283 364v7M1285 362v7M1287 356v11M1289 354v9M1291 353v6M1293 351v6M1295 349v7M1297 351v8M1299 352v11M1301 352v10M1303 352v8M1305 351v5M1307 351v9M1309 350v14M1311 353v14M1313 352v14M1315 350v13M1317 349v10M1319 352v8M1321 355v8M1323 358v11M1325 361v7M1327 362v8M1329 362v7M1331 363v6M1333 363v6M1335 364v5M1337 365v6M1339 366v5M1341 367v5M1343 367v7M1345 368v7M1347 368v5M1349 367v5M1351 366v4M1353 365v5M1355 365v6M1357 365v6M1359 368v6M1361 358v15M1363 356v11M1365 357v6M1367 357v6M1369 354v7M1371 352v6M1373 353v6M1375 354v6M1377 355v6M1379 356v5M1381 356v5M1383 354v6M1385 354v5M1387 356v5M1389 357v5M1391 357v7M1393 358v8M1395 362v9M1397 365v10M1399 369v9M1401 373v7M1403 374v9M1405 375v7M1407 372v7M1409 369v7M1411 365v11M1413 131v76M1415 149v45M1417 143v11M1419 138v15M1421 129v18M1423 127v13M1425 126v18M1427 129v17M1429 129v12M1431 127v11M1433 127v11M1435 133v16M1437 139v11M1439 145v8M1441 145v12M1443 148v9M1445 152v8M1447 153v9M1449 157v9M1451 161v6M1453 163v5M1455 163v6M1457 164v6M1459 167v11M1461 168v12M1463 167v9M1465 173v34M1467 167v15M1469 171v13M1471 171v19M1473 191v16M1475 192v12M1477 190v12M1479 179v16M1481 177v8M1483 170v12M1485 154v16M1487 153v10M1489 153v12M1491 160v12M1493 165v7M1495 164v6M1497 164v6M1499 164v5M1501 164v5M1503 164v6M1505 167v5M1507 165v8M1509 166v11M1511 163v12M1513 163v10M1515 166v6M1517 171v20M1519 170v13M1521 165v11M1523 161v11M1525 158v13M1527 142v17M1529 143v9M1531 133v10M1533 122v16M1535 118v13M1537 122v8M1539 114v9M1541 113v7M1543 114v6M1545 114v7M1547 114v9M1549 112v11M1551 110v9M1553 108v6M1555 104v7M1557 97v10M1559 92v12M1561 79v12M1563 78v13M1565 83v12M1567 87v15M1569 77v30M1571 84v17M1573 90v12M1575 93v10M1577 100v7M1579 101v5M1581 98v7M1583 90v11M1585 82v10M1587 79v8M1589 80v5M1591 81v6M1593 78v9M1595 78v10M1597 94v32M1599 96v13M1601 99v6M1603 101v8M1605 100v12M1607 96v18M1609 114v8M1611 115v8M1613 117v8M1615 119v5M1617 117v6M1619 114v15M1621 116v16M1623 117v10M1625 121v6M1627 123v5M1629 123v6M1631 125v8M1633 126v7M1635 129v8M1637 132v12M1639 136v6M1641 135v7M1643 135v6M1645 132v8M1647 126v14M1649 122v25M1651 133v12M1653 138v17M1655 145v15M1657 151v14M1659 150v15M1661 145v11M1663 141v10M1665 141v10M1667 140v7M1669 139v5M1671 136v6M1673 134v6M1675 135v6M1677 137v4M1679 137v7M1681 135v7M1683 133v6M1685 128v6M1687 128v5M1689 130v5M1691 132v6M1693 135v6M1695 137v6M1697 137v7M1699 130v13M1701 122v16M1703 127v11M1705 130v12M1707 135v10M1709 140v9M1711 144v9M1713 149v9M1715 152v8M1717 150v7M1719 148v6M1721 147v6M1723 146v7M1725 144v8M1727 138v9M1729 138v7M1731 139v5M1733 139v5M1735 138v6M1737 139v5M1739 139v5M1741 139v5M1743 138v7M1745 136v8M1747 136v8M1749 136v9M1751 137v9M1753 130v14M1755 135v10M1757 140v7M1759 140v7M1761 135v8M1763 126v9M1765 120v10M1767 114v12M1769 78v36M1771 69v14M1773 71v10M1775 68v9M1777 58v16M1779 56v15M1781 61v10M1783 64v9M1785 67v8M1787 70v8M1789 74v9M1791 79v8M1793 82v8M1795 84v10M1797 84v11M1799 84v9M1801 87v8M1803 92v7M1805 117v27M1807 129v14M1809 131v8M1811 131v6M1813 131v10M1815 137v12M1817 139v10M1819 140v8M1821 138v7M1823 136v7M1825 136v6M1827 136v5M1829 136v6M1831 138v5M1833 140v5M1835 143v5M1837 141v7M1839 141v6M1841 141v5M1843 141v4M1845 138v6M1847 136v8M1849 136v6M1851 138v7M1853 140v7M1855 142v8" stroke="#ffffff" stroke-width="1" fill="none" shape-rendering="crispEdges" transform="translate(0.5,0)"/>
<path d="M1021 400v2M1027 409v5M1029 410v4M1039 419v2M1049 417v16M1061 399v4M1073 411v2M1081 416v3M1083 419v2M1087 416v4M1097 428v3M1115 420v5M1129 425v2M1131 424v2M1133 422v3M1135 420v3M1137 419v2M1145 419v2M1147 417v2M1155 422v4M1157 416v4M1159 414v3M1163 423v6M1169 426v4M1177 447v3M1181 438v3M1183 434v6M1187 429v4M1191 427v3M1193 426v2M1197 425v3M1203 427v2M1209 400v4M1211 396v3M1213 392v2M1233 388v2M1249 393v2M1257 372v17M1263 374v3M1265 373v4M1269 368v4M1275 370v3M1277 371v2M1281 368v3M1283 367v3M1287 358v4M1289 355v5M1293 352v2M1295 353v2M1303 354v4M1307 352v4M1309 357v4M1313 355v7M1317 352v4M1321 357v4M1323 359v5M1339 368v2M1341 369v2M1363 359v3M1367 359v3M1371 355v2M1377 357v3M1381 358v2M1383 355v3M1389 359v2M1393 361v3M1395 364v4M1397 367v5M1405 377v4M1411 371v4M1415 161v29M1417 148v3M1419 145v5M1451 163v3M1465 181v23M1467 169v5M1477 193v6M1479 182v9M1485 156v7M1497 165v2M1499 166v2M1501 165v2M1511 168v4M1517 176v6M1523 162v4M1525 160v6M1527 148v8M1531 135v5M1533 127v7M1539 116v3M1547 118v2M1549 115v5M1551 112v4M1555 105v4M1557 98v6M1569 85v20M1575 95v3M1589 81v2M1591 82v3M1601 102v2M1603 104v4M1607 105v7M1609 116v5M1613 120v3M1617 120v2M1623 123v3M1627 124v2M1647 133v6M1659 152v5M1663 144v4M1667 142v2M1679 139v2M1683 135v3M1685 129v2M1687 130v2M1699 132v6M1717 152v2M1719 151v2M1721 148v4M1723 147v3M1733 140v2M1737 140v2M1747 138v3M1751 139v4M1759 141v2M1761 138v4M1767 119v4M1769 87v24M1771 73v5M1773 73v5M1775 71v3M1779 64v5M1811 131v4M1821 141v3M1823 138v3M1829 138v3M1851 141v3" stroke="#0a9a1a" stroke-width="1" fill="none" shape-rendering="crispEdges" transform="translate(0.5,0)"/>
<path d="M1007 396v5M1017 400v4M1023 404v4M1031 415v3M1033 414v4M1035 415v3M1041 417v3M1045 419v4M1047 420v3M1053 398v6M1055 395v3M1057 394v4M1059 394v4M1063 403v5M1065 408v4M1067 410v2M1071 411v2M1079 415v3M1085 417v5M1089 416v2M1091 419v6M1093 425v5M1095 426v3M1099 427v3M1103 401v5M1105 404v4M1107 409v4M1109 410v6M1111 416v5M1117 418v2M1121 416v3M1125 422v2M1139 419v2M1141 419v2M1149 417v2M1151 413v5M1153 412v23M1165 428v3M1175 435v3M1199 426v3M1201 426v3M1215 387v3M1217 386v2M1223 389v3M1227 392v3M1235 390v3M1239 390v3M1241 391v2M1243 391v3M1245 393v2M1247 392v2M1255 391v4M1271 371v3M1279 371v2M1285 363v3M1297 353v4M1299 353v3M1301 354v6M1325 363v3M1327 364v5M1329 364v2M1331 365v2M1333 364v3M1337 368v2M1349 367v3M1357 366v2M1361 363v7M1373 356v2M1387 357v3M1391 358v4M1399 370v5M1403 380v2M1413 135v58M1427 134v9M1435 138v5M1437 142v6M1439 147v5M1443 149v5M1455 164v2M1459 170v6M1461 173v3M1471 173v8M1475 195v5M1483 172v3M1487 156v5M1489 154v6M1491 162v7M1495 165v2M1513 166v5M1519 173v7M1543 115v2M1545 115v4M1553 110v2M1559 93v7M1563 80v7M1565 86v7M1567 88v7M1571 88v6M1573 92v7M1577 102v2M1579 102v2M1581 101v3M1585 83v5M1587 84v2M1593 81v4M1597 98v18M1611 119v3M1621 122v7M1629 125v3M1631 129v3M1633 127v3M1637 136v5M1639 138v2M1641 136v3M1643 136v2M1649 123v20M1651 138v5M1653 142v9M1657 153v5M1661 150v4M1669 140v2M1671 138v2M1673 136v3M1677 138v2M1681 136v3M1689 132v2M1695 139v2M1701 123v11M1705 134v7M1713 154v3M1715 155v3M1731 141v2M1735 139v2M1741 141v3M1743 141v2M1757 143v3M1777 66v5M1783 68v3M1785 69v4M1787 75v2M1789 75v5M1795 88v4M1797 87v3M1801 89v4M1803 96v2M1805 120v16M1807 131v7M1809 132v4M1815 140v5M1817 142v5M1819 142v3M1825 137v3M1827 138v2M1831 139v3M1835 145v2M1837 142v4M1839 144v2M1853 142v3M1855 144v3" stroke="#d2141e" stroke-width="1" fill="none" shape-rendering="crispEdges" transform="translate(0.5,0)"/>
<path d="M1009 397v3M1025 409v3M1077 412v2M1119 417v3M1127 424v2M1167 426v2M1173 432v2M1179 445v2M1205 393v3M1229 388v3M1231 387v3M1237 389v3M1311 358v3M1315 351v3M1343 370v3M1347 369v2M1351 367v2M1355 367v2M1365 359v3M1375 355v2M1379 358v2M1385 355v2M1401 376v3M1409 371v3M1423 134v3M1425 131v3M1447 154v3M1449 162v3M1457 166v3M1469 177v3M1481 180v3M1505 168v2M1507 166v3M1515 167v3M1537 127v2M1541 115v3M1561 83v3M1595 79v3M1635 131v3M1655 148v3M1675 137v2M1691 134v3M1693 136v3M1703 130v3M1709 141v3M1725 146v3M1727 140v3M1763 128v3M1765 121v3M1833 141v2M1845 140v2M1847 137v3" stroke="#f0e010" stroke-width="1" fill="none" shape-rendering="crispEdges" transform="translate(0.5,0)"/>
<polyline points="1006.6,407.8 1022.2,404.8 1045.2,400.2 1059.0,400.9 1072.9,403.2 1100.5,410.6 1128.1,415.2 1151.1,416.3 1164.9,418.6 1185.6,423.2 1197.1,423.9 1205.2,424.4 1220.1,419.8 1238.6,414.0 1256.5,409.9 1266.2,404.8 1284.6,391.0 1307.6,376.5 1323.7,371.0 1344.4,366.8 1360.5,364.1 1381.3,359.9 1395.1,361.8 1412.6,364.5 1420.4,346.1 1427.3,330.0 1477.4,230.1 1491.0,199.6 1503.2,175.0 1510.6,162.7 1518.0,163.5 1535.2,165.2 1552.4,157.8 1572.1,143.1 1596.7,123.4 1608.9,114.8 1621.2,106.9 1629.8,105.7 1648.3,109.4 1665.5,118.5 1685.2,128.3 1704.8,135.7 1719.6,139.9 1731.9,141.1 1751.5,141.4 1766.3,139.9 1778.6,133.2 1793.3,124.6 1804.4,118.0 1817.9,116.8 1837.6,116.5 1856.2,117.5" fill="none" stroke="#979797" stroke-width="1.05" stroke-linejoin="round" />
<line x1="1006" y1="23.5" x2="1857" y2="23.5" stroke="#625b68" stroke-width="1" shape-rendering="crispEdges"/>
<line x1="1006.5" y1="23" x2="1006.5" y2="487" stroke="#625b68" stroke-width="1" shape-rendering="crispEdges"/>
<line x1="1006" y1="486.5" x2="1857" y2="486.5" stroke="#8a878d" stroke-width="1" shape-rendering="crispEdges"/>
<line x1="1856.5" y1="23" x2="1856.5" y2="492" stroke="#8a878d" stroke-width="1" shape-rendering="crispEdges"/>
<line x1="1857" y1="50.5" x2="1859" y2="50.5" stroke="#8a878d" stroke-width="1" shape-rendering="crispEdges"/>
<text x="1862.4" y="55.4" font-size="14" fill="#e6e6e6" textLength="40.4" lengthAdjust="spacingAndGlyphs" text-anchor="start" >21.75</text>
<line x1="1857" y1="73.5" x2="1859" y2="73.5" stroke="#8a878d" stroke-width="1" shape-rendering="crispEdges"/>
<text x="1862.4" y="79.2" font-size="14" fill="#e6e6e6" textLength="40.4" lengthAdjust="spacingAndGlyphs" text-anchor="start" >21.50</text>
<line x1="1857" y1="97.5" x2="1859" y2="97.5" stroke="#8a878d" stroke-width="1" shape-rendering="crispEdges"/>
<text x="1862.4" y="103.0" font-size="14" fill="#e6e6e6" textLength="40.4" lengthAdjust="spacingAndGlyphs" text-anchor="start" >21.25</text>
<line x1="1857" y1="121.5" x2="1859" y2="121.5" stroke="#8a878d" stroke-width="1" shape-rendering="crispEdges"/>
<text x="1862.4" y="126.9" font-size="14" fill="#e6e6e6" textLength="40.4" lengthAdjust="spacingAndGlyphs" text-anchor="start" >21.00</text>
<line x1="1857" y1="145.5" x2="1859" y2="145.5" stroke="#8a878d" stroke-width="1" shape-rendering="crispEdges"/>
<text x="1862.4" y="150.7" font-size="14" fill="#e6e6e6" textLength="40.4" lengthAdjust="spacingAndGlyphs" text-anchor="start" >20.75</text>
<line x1="1857" y1="169.5" x2="1859" y2="169.5" stroke="#8a878d" stroke-width="1" shape-rendering="crispEdges"/>
<text x="1862.4" y="174.5" font-size="14" fill="#e6e6e6" textLength="40.4" lengthAdjust="spacingAndGlyphs" text-anchor="start" >20.50</text>
<line x1="1857" y1="193.5" x2="1859" y2="193.5" stroke="#8a878d" stroke-width="1" shape-rendering="crispEdges"/>
<text x="1862.4" y="198.3" font-size="14" fill="#e6e6e6" textLength="40.4" lengthAdjust="spacingAndGlyphs" text-anchor="start" >20.25</text>
<line x1="1857" y1="216.5" x2="1859" y2="216.5" stroke="#8a878d" stroke-width="1" shape-rendering="crispEdges"/>
<text x="1862.4" y="222.1" font-size="14" fill="#e6e6e6" textLength="40.4" lengthAdjust="spacingAndGlyphs" text-anchor="start" >20.00</text>
<line x1="1857" y1="240.5" x2="1859" y2="240.5" stroke="#8a878d" stroke-width="1" shape-rendering="crispEdges"/>
<text x="1862.4" y="246.0" font-size="14" fill="#e6e6e6" textLength="40.4" lengthAdjust="spacingAndGlyphs" text-anchor="start" >19.75</text>
<line x1="1857" y1="264.5" x2="1859" y2="264.5" stroke="#8a878d" stroke-width="1" shape-rendering="crispEdges"/>
<text x="1862.4" y="269.8" font-size="14" fill="#e6e6e6" textLength="40.4" lengthAdjust="spacingAndGlyphs" text-anchor="start" >19.50</text>
<line x1="1857" y1="288.5" x2="1859" y2="288.5" stroke="#8a878d" stroke-width="1" shape-rendering="crispEdges"/>
<text x="1862.4" y="293.6" font-size="14" fill="#e6e6e6" textLength="40.4" lengthAdjust="spacingAndGlyphs" text-anchor="start" >19.25</text>
<line x1="1857" y1="312.5" x2="1859" y2="312.5" stroke="#8a878d" stroke-width="1" shape-rendering="crispEdges"/>
<text x="1862.4" y="317.4" font-size="14" fill="#e6e6e6" textLength="40.4" lengthAdjust="spacingAndGlyphs" text-anchor="start" >19.00</text>
<line x1="1857" y1="335.5" x2="1859" y2="335.5" stroke="#8a878d" stroke-width="1" shape-rendering="crispEdges"/>
<text x="1862.4" y="341.2" font-size="14" fill="#e6e6e6" textLength="40.4" lengthAdjust="spacingAndGlyphs" text-anchor="start" >18.75</text>
<line x1="1857" y1="359.5" x2="1859" y2="359.5" stroke="#8a878d" stroke-width="1" shape-rendering="crispEdges"/>
<text x="1862.4" y="365.1" font-size="14" fill="#e6e6e6" textLength="40.4" lengthAdjust="spacingAndGlyphs" text-anchor="start" >18.50</text>
<line x1="1857" y1="383.5" x2="1859" y2="383.5" stroke="#8a878d" stroke-width="1" shape-rendering="crispEdges"/>
<text x="1862.4" y="388.9" font-size="14" fill="#e6e6e6" textLength="40.4" lengthAdjust="spacingAndGlyphs" text-anchor="start" >18.25</text>
<line x1="1857" y1="407.5" x2="1859" y2="407.5" stroke="#8a878d" stroke-width="1" shape-rendering="crispEdges"/>
<text x="1862.4" y="412.7" font-size="14" fill="#e6e6e6" textLength="40.4" lengthAdjust="spacingAndGlyphs" text-anchor="start" >18.00</text>
<line x1="1857" y1="431.5" x2="1859" y2="431.5" stroke="#8a878d" stroke-width="1" shape-rendering="crispEdges"/>
<text x="1862.4" y="436.5" font-size="14" fill="#e6e6e6" textLength="40.4" lengthAdjust="spacingAndGlyphs" text-anchor="start" >17.75</text>
<line x1="1857" y1="455.5" x2="1859" y2="455.5" stroke="#8a878d" stroke-width="1" shape-rendering="crispEdges"/>
<text x="1862.4" y="460.3" font-size="14" fill="#e6e6e6" textLength="40.4" lengthAdjust="spacingAndGlyphs" text-anchor="start" >17.50</text>
<path d="M1856.4 151.1l4.8 -3.2v-3.4q0 -2 2 -2h39.5q2 0 2 2v13.2q0 2 -2 2h-39.5q-2 0 -2 -2v-3.4z" fill="#cfcf36"/>
<text x="1862.9" y="156.4" font-size="14" fill="#141400" textLength="39.4" lengthAdjust="spacingAndGlyphs" text-anchor="start" >20.69</text>
<g transform="translate(991,456)"><path d="M0.3 0.8Q3.5 -0.8 7 0.8L7 2.2Q5.2 2.6 5 4V8Q5.2 9.4 7 9.8L7 11.2Q3.5 12.8 0.3 11.2L0.3 9.8Q2 9.4 2.2 8V4Q2 2.6 0.3 2.2Z" fill="#3f9bdc"/><path d="M12.5 5.8H5M7.6 3.6L5 5.8L7.6 8" fill="none" stroke="#14a83c" stroke-width="1.1"/></g>
<rect x="989" y="478" width="1" height="8" fill="#c9c9c9" shape-rendering="crispEdges"/>
<rect x="992" y="475" width="1" height="11" fill="#c9c9c9" shape-rendering="crispEdges"/>
<rect x="996" y="473" width="1" height="4" fill="#c9c9c9" shape-rendering="crispEdges"/>
<rect x="999" y="477" width="1" height="9" fill="#c9c9c9" shape-rendering="crispEdges"/>
<rect x="1002" y="480" width="1" height="6" fill="#c9c9c9" shape-rendering="crispEdges"/>
<rect x="1723" y="404" width="119" height="60" fill="#cdf5c0" fill-opacity="0.135"/>
<text x="1730.8" y="419.7" font-size="12.2" fill="#1a0026" font-weight="bold" textLength="84.5" lengthAdjust="spacingAndGlyphs" text-anchor="start" >HPE@SMART</text>
<text x="1731.4" y="420.3" font-size="12.2" fill="#ffffff" font-weight="bold" textLength="84.5" lengthAdjust="spacingAndGlyphs" text-anchor="start" >HPE@SMART</text>
<g transform="translate(1821.4,412.6)"><path d="M3.2 3.2L6.9 7" stroke="#3b66a4" stroke-width="3.6" stroke-linecap="round" fill="none"/><circle cx="3.1" cy="3.1" r="3.3" fill="#3b66a4"/><path d="M3.2 3.2L6.9 7" stroke="#9fc6ee" stroke-width="2.3" stroke-linecap="round" fill="none"/><circle cx="3.1" cy="3.1" r="2.6" fill="#b5d5f5"/><path d="M3.3 3.3L-0.8 2.4L2.4 -0.8Z" fill="#3c2048"/><path d="M4.2 3.4L6.6 5.9" stroke="#e6f2ff" stroke-width="0.8" stroke-linecap="round" fill="none"/></g>
<line x1="1732" y1="432.7" x2="1748.6" y2="432.7" stroke="#6f7a68" stroke-width="1.6" stroke-dasharray="6.5 4" shape-rendering="crispEdges"/>
<text x="1752.7" y="437.1" font-size="12.2" fill="#1a0026" textLength="66.9" lengthAdjust="spacingAndGlyphs" text-anchor="start" >Prior Close</text>
<text x="1753.3" y="437.7" font-size="12.2" fill="#ffffff" textLength="66.9" lengthAdjust="spacingAndGlyphs" text-anchor="start" >Prior Close</text>
<g transform="translate(1825.9,429.7)"><rect x="0.4" y="0.2" width="8" height="8" fill="#e6ebf6"/><path d="M1.9 4.3L3.7 6.3L6.9 2.3" fill="none" stroke="#1a5ed6" stroke-width="1.7"/></g>
<line x1="1732" y1="452.8" x2="1748.6" y2="452.8" stroke="#a6ab9f" stroke-width="1.6" shape-rendering="crispEdges"/>
<text x="1752.7" y="457.6" font-size="12.2" fill="#1a0026" textLength="51.0" lengthAdjust="spacingAndGlyphs" text-anchor="start" >SMA(50)</text>
<text x="1753.3" y="458.2" font-size="12.2" fill="#ffffff" textLength="51.0" lengthAdjust="spacingAndGlyphs" text-anchor="start" >SMA(50)</text>
<g transform="translate(1809.9,449.9)"><rect x="0.4" y="0.2" width="8" height="8" fill="#e6ebf6"/><path d="M1.9 4.3L3.7 6.3L6.9 2.3" fill="none" stroke="#1a5ed6" stroke-width="1.7"/></g>
<g transform="translate(1823.2,450.6)"><path d="M3.2 3.2L6.9 7" stroke="#3b66a4" stroke-width="3.6" stroke-linecap="round" fill="none"/><circle cx="3.1" cy="3.1" r="3.3" fill="#3b66a4"/><path d="M3.2 3.2L6.9 7" stroke="#9fc6ee" stroke-width="2.3" stroke-linecap="round" fill="none"/><circle cx="3.1" cy="3.1" r="2.6" fill="#b5d5f5"/><path d="M3.3 3.3L-0.8 2.4L2.4 -0.8Z" fill="#3c2048"/><path d="M4.2 3.4L6.6 5.9" stroke="#e6f2ff" stroke-width="0.8" stroke-linecap="round" fill="none"/></g>
<line x1="16" y1="541.5" x2="909" y2="541.5" stroke="#35283f" stroke-width="1" stroke-dasharray="2 2" shape-rendering="crispEdges"/>
<line x1="16" y1="562.5" x2="909" y2="562.5" stroke="#35283f" stroke-width="1" stroke-dasharray="2 2" shape-rendering="crispEdges"/>
<line x1="16" y1="583.5" x2="909" y2="583.5" stroke="#35283f" stroke-width="1" stroke-dasharray="2 2" shape-rendering="crispEdges"/>
<line x1="16" y1="604.5" x2="909" y2="604.5" stroke="#35283f" stroke-width="1" stroke-dasharray="2 2" shape-rendering="crispEdges"/>
<line x1="16" y1="625.5" x2="909" y2="625.5" stroke="#35283f" stroke-width="1" stroke-dasharray="2 2" shape-rendering="crispEdges"/>
<line x1="16" y1="647.5" x2="909" y2="647.5" stroke="#35283f" stroke-width="1" stroke-dasharray="2 2" shape-rendering="crispEdges"/>
<line x1="16" y1="668.5" x2="909" y2="668.5" stroke="#35283f" stroke-width="1" stroke-dasharray="2 2" shape-rendering="crispEdges"/>
<line x1="16" y1="689.5" x2="909" y2="689.5" stroke="#35283f" stroke-width="1" stroke-dasharray="2 2" shape-rendering="crispEdges"/>
<line x1="16" y1="710.5" x2="909" y2="710.5" stroke="#35283f" stroke-width="1" stroke-dasharray="2 2" shape-rendering="crispEdges"/>
<line x1="16" y1="731.5" x2="909" y2="731.5" stroke="#35283f" stroke-width="1" stroke-dasharray="2 2" shape-rendering="crispEdges"/>
<line x1="16" y1="752.5" x2="909" y2="752.5" stroke="#35283f" stroke-width="1" stroke-dasharray="2 2" shape-rendering="crispEdges"/>
<line x1="16" y1="773.5" x2="909" y2="773.5" stroke="#35283f" stroke-width="1" stroke-dasharray="2 2" shape-rendering="crispEdges"/>
<line x1="16" y1="795.5" x2="909" y2="795.5" stroke="#35283f" stroke-width="1" stroke-dasharray="2 2" shape-rendering="crispEdges"/>
<line x1="16" y1="816.5" x2="909" y2="816.5" stroke="#35283f" stroke-width="1" stroke-dasharray="2 2" shape-rendering="crispEdges"/>
<line x1="16" y1="837.5" x2="909" y2="837.5" stroke="#35283f" stroke-width="1" stroke-dasharray="2 2" shape-rendering="crispEdges"/>
<line x1="16" y1="858.5" x2="909" y2="858.5" stroke="#35283f" stroke-width="1" stroke-dasharray="2 2" shape-rendering="crispEdges"/>
<line x1="16" y1="879.5" x2="909" y2="879.5" stroke="#35283f" stroke-width="1" stroke-dasharray="2 2" shape-rendering="crispEdges"/>
<line x1="16" y1="900.5" x2="909" y2="900.5" stroke="#35283f" stroke-width="1" stroke-dasharray="2 2" shape-rendering="crispEdges"/>
<line x1="16" y1="922.5" x2="909" y2="922.5" stroke="#35283f" stroke-width="1" stroke-dasharray="2 2" shape-rendering="crispEdges"/>
<line x1="16" y1="943.5" x2="909" y2="943.5" stroke="#35283f" stroke-width="1" stroke-dasharray="2 2" shape-rendering="crispEdges"/>
<line x1="16" y1="964.5" x2="909" y2="964.5" stroke="#35283f" stroke-width="1" stroke-dasharray="2 2" shape-rendering="crispEdges"/>
<line x1="18.5" y1="523" x2="18.5" y2="988" stroke="#5b5b53" stroke-width="1" stroke-dasharray="6 4" shape-rendering="crispEdges"/>
<line x1="32.5" y1="523" x2="32.5" y2="988" stroke="#5b5b53" stroke-width="1" stroke-dasharray="6 4" shape-rendering="crispEdges"/>
<line x1="46.5" y1="523" x2="46.5" y2="988" stroke="#5b5b53" stroke-width="1" stroke-dasharray="6 4" shape-rendering="crispEdges"/>
<line x1="60.5" y1="523" x2="60.5" y2="988" stroke="#5b5b53" stroke-width="1" stroke-dasharray="6 4" shape-rendering="crispEdges"/>
<line x1="60.5" y1="988" x2="60.5" y2="991.5" stroke="#8a878d" stroke-width="1" shape-rendering="crispEdges"/>
<text x="60.5" y="1005.6" font-size="14" fill="#e6e6e6" textLength="47.0" lengthAdjust="spacingAndGlyphs" text-anchor="middle" >Apr 14</text>
<line x1="74.5" y1="523" x2="74.5" y2="988" stroke="#5b5b53" stroke-width="1" stroke-dasharray="6 4" shape-rendering="crispEdges"/>
<line x1="88.5" y1="523" x2="88.5" y2="988" stroke="#5b5b53" stroke-width="1" stroke-dasharray="6 4" shape-rendering="crispEdges"/>
<line x1="102.5" y1="523" x2="102.5" y2="988" stroke="#5b5b53" stroke-width="1" stroke-dasharray="6 4" shape-rendering="crispEdges"/>
<line x1="116.5" y1="523" x2="116.5" y2="988" stroke="#5b5b53" stroke-width="1" stroke-dasharray="6 4" shape-rendering="crispEdges"/>
<line x1="116.5" y1="988" x2="116.5" y2="991.5" stroke="#8a878d" stroke-width="1" shape-rendering="crispEdges"/>
<text x="116.5" y="1005.6" font-size="14" fill="#e6e6e6" textLength="47.0" lengthAdjust="spacingAndGlyphs" text-anchor="middle" >Apr 21</text>
<line x1="130.5" y1="523" x2="130.5" y2="988" stroke="#5b5b53" stroke-width="1" stroke-dasharray="6 4" shape-rendering="crispEdges"/>
<line x1="144.5" y1="523" x2="144.5" y2="988" stroke="#5b5b53" stroke-width="1" stroke-dasharray="6 4" shape-rendering="crispEdges"/>
<line x1="158.5" y1="523" x2="158.5" y2="988" stroke="#5b5b53" stroke-width="1" stroke-dasharray="6 4" shape-rendering="crispEdges"/>
<line x1="172.5" y1="523" x2="172.5" y2="988" stroke="#5b5b53" stroke-width="1" stroke-dasharray="6 4" shape-rendering="crispEdges"/>
<line x1="186.5" y1="523" x2="186.5" y2="988" stroke="#5b5b53" stroke-width="1" stroke-dasharray="6 4" shape-rendering="crispEdges"/>
<line x1="186.5" y1="988" x2="186.5" y2="991.5" stroke="#8a878d" stroke-width="1" shape-rendering="crispEdges"/>
<text x="186.5" y="1005.6" font-size="14" fill="#e6e6e6" textLength="47.0" lengthAdjust="spacingAndGlyphs" text-anchor="middle" >Apr 28</text>
<line x1="200.5" y1="523" x2="200.5" y2="988" stroke="#5b5b53" stroke-width="1" stroke-dasharray="6 4" shape-rendering="crispEdges"/>
<line x1="214.5" y1="523" x2="214.5" y2="988" stroke="#5b5b53" stroke-width="1" stroke-dasharray="6 4" shape-rendering="crispEdges"/>
<line x1="228.5" y1="523" x2="228.5" y2="988" stroke="#5b5b53" stroke-width="1" stroke-dasharray="6 4" shape-rendering="crispEdges"/>
<line x1="242.5" y1="523" x2="242.5" y2="988" stroke="#5b5b53" stroke-width="1" stroke-dasharray="6 4" shape-rendering="crispEdges"/>
<line x1="256.5" y1="523" x2="256.5" y2="988" stroke="#5b5b53" stroke-width="1" stroke-dasharray="6 4" shape-rendering="crispEdges"/>
<line x1="256.5" y1="988" x2="256.5" y2="991.5" stroke="#8a878d" stroke-width="1" shape-rendering="crispEdges"/>
<text x="256.5" y="1005.6" font-size="14" fill="#e6e6e6" textLength="40.5" lengthAdjust="spacingAndGlyphs" text-anchor="middle" >May 5</text>
<line x1="270.5" y1="523" x2="270.5" y2="988" stroke="#5b5b53" stroke-width="1" stroke-dasharray="6 4" shape-rendering="crispEdges"/>
<line x1="284.5" y1="523" x2="284.5" y2="988" stroke="#5b5b53" stroke-width="1" stroke-dasharray="6 4" shape-rendering="crispEdges"/>
<line x1="298.5" y1="523" x2="298.5" y2="988" stroke="#5b5b53" stroke-width="1" stroke-dasharray="6 4" shape-rendering="crispEdges"/>
<line x1="313.5" y1="523" x2="313.5" y2="988" stroke="#5b5b53" stroke-width="1" stroke-dasharray="6 4" shape-rendering="crispEdges"/>
<line x1="327.5" y1="523" x2="327.5" y2="988" stroke="#5b5b53" stroke-width="1" stroke-dasharray="6 4" shape-rendering="crispEdges"/>
<line x1="327.5" y1="988" x2="327.5" y2="991.5" stroke="#8a878d" stroke-width="1" shape-rendering="crispEdges"/>
<text x="327.5" y="1005.6" font-size="14" fill="#e6e6e6" textLength="50.0" lengthAdjust="spacingAndGlyphs" text-anchor="middle" >May 12</text>
<line x1="341.5" y1="523" x2="341.5" y2="988" stroke="#5b5b53" stroke-width="1" stroke-dasharray="6 4" shape-rendering="crispEdges"/>
<line x1="355.5" y1="523" x2="355.5" y2="988" stroke="#5b5b53" stroke-width="1" stroke-dasharray="6 4" shape-rendering="crispEdges"/>
<line x1="369.5" y1="523" x2="369.5" y2="988" stroke="#5b5b53" stroke-width="1" stroke-dasharray="6 4" shape-rendering="crispEdges"/>
<line x1="383.5" y1="523" x2="383.5" y2="988" stroke="#5b5b53" stroke-width="1" stroke-dasharray="6 4" shape-rendering="crispEdges"/>
<line x1="397.5" y1="523" x2="397.5" y2="988" stroke="#5b5b53" stroke-width="1" stroke-dasharray="6 4" shape-rendering="crispEdges"/>
<line x1="397.5" y1="988" x2="397.5" y2="991.5" stroke="#8a878d" stroke-width="1" shape-rendering="crispEdges"/>
<text x="397.5" y="1005.6" font-size="14" fill="#e6e6e6" textLength="50.0" lengthAdjust="spacingAndGlyphs" text-anchor="middle" >May 19</text>
<line x1="411.5" y1="523" x2="411.5" y2="988" stroke="#5b5b53" stroke-width="1" stroke-dasharray="6 4" shape-rendering="crispEdges"/>
<line x1="425.5" y1="523" x2="425.5" y2="988" stroke="#5b5b53" stroke-width="1" stroke-dasharray="6 4" shape-rendering="crispEdges"/>
<line x1="439.5" y1="523" x2="439.5" y2="988" stroke="#5b5b53" stroke-width="1" stroke-dasharray="6 4" shape-rendering="crispEdges"/>
<line x1="453.5" y1="523" x2="453.5" y2="988" stroke="#5b5b53" stroke-width="1" stroke-dasharray="6 4" shape-rendering="crispEdges"/>
<line x1="467.5" y1="523" x2="467.5" y2="988" stroke="#5b5b53" stroke-width="1" stroke-dasharray="6 4" shape-rendering="crispEdges"/>
<line x1="467.5" y1="988" x2="467.5" y2="991.5" stroke="#8a878d" stroke-width="1" shape-rendering="crispEdges"/>
<text x="467.5" y="1005.6" font-size="14" fill="#e6e6e6" textLength="50.0" lengthAdjust="spacingAndGlyphs" text-anchor="middle" >May 26</text>
<line x1="481.5" y1="523" x2="481.5" y2="988" stroke="#5b5b53" stroke-width="1" stroke-dasharray="6 4" shape-rendering="crispEdges"/>
<line x1="495.5" y1="523" x2="495.5" y2="988" stroke="#5b5b53" stroke-width="1" stroke-dasharray="6 4" shape-rendering="crispEdges"/>
<line x1="509.5" y1="523" x2="509.5" y2="988" stroke="#5b5b53" stroke-width="1" stroke-dasharray="6 4" shape-rendering="crispEdges"/>
<line x1="523.5" y1="523" x2="523.5" y2="988" stroke="#5b5b53" stroke-width="1" stroke-dasharray="6 4" shape-rendering="crispEdges"/>
<line x1="523.5" y1="988" x2="523.5" y2="991.5" stroke="#8a878d" stroke-width="1" shape-rendering="crispEdges"/>
<text x="523.5" y="1005.6" font-size="14" fill="#e6e6e6" textLength="38.0" lengthAdjust="spacingAndGlyphs" text-anchor="middle" >Jun 2</text>
<line x1="537.5" y1="523" x2="537.5" y2="988" stroke="#5b5b53" stroke-width="1" stroke-dasharray="6 4" shape-rendering="crispEdges"/>
<line x1="551.5" y1="523" x2="551.5" y2="988" stroke="#5b5b53" stroke-width="1" stroke-dasharray="6 4" shape-rendering="crispEdges"/>
<line x1="565.5" y1="523" x2="565.5" y2="988" stroke="#5b5b53" stroke-width="1" stroke-dasharray="6 4" shape-rendering="crispEdges"/>
<line x1="579.5" y1="523" x2="579.5" y2="988" stroke="#5b5b53" stroke-width="1" stroke-dasharray="6 4" shape-rendering="crispEdges"/>
<line x1="593.5" y1="523" x2="593.5" y2="988" stroke="#5b5b53" stroke-width="1" stroke-dasharray="6 4" shape-rendering="crispEdges"/>
<line x1="593.5" y1="988" x2="593.5" y2="991.5" stroke="#8a878d" stroke-width="1" shape-rendering="crispEdges"/>
<text x="593.5" y="1005.6" font-size="14" fill="#e6e6e6" textLength="38.0" lengthAdjust="spacingAndGlyphs" text-anchor="middle" >Jun 9</text>
<line x1="607.5" y1="523" x2="607.5" y2="988" stroke="#5b5b53" stroke-width="1" stroke-dasharray="6 4" shape-rendering="crispEdges"/>
<line x1="621.5" y1="523" x2="621.5" y2="988" stroke="#5b5b53" stroke-width="1" stroke-dasharray="6 4" shape-rendering="crispEdges"/>
<line x1="635.5" y1="523" x2="635.5" y2="988" stroke="#5b5b53" stroke-width="1" stroke-dasharray="6 4" shape-rendering="crispEdges"/>
<line x1="649.5" y1="523" x2="649.5" y2="988" stroke="#5b5b53" stroke-width="1" stroke-dasharray="6 4" shape-rendering="crispEdges"/>
<line x1="663.5" y1="523" x2="663.5" y2="988" stroke="#5b5b53" stroke-width="1" stroke-dasharray="6 4" shape-rendering="crispEdges"/>
<line x1="663.5" y1="988" x2="663.5" y2="991.5" stroke="#8a878d" stroke-width="1" shape-rendering="crispEdges"/>
<text x="663.5" y="1005.6" font-size="14" fill="#e6e6e6" textLength="46.0" lengthAdjust="spacingAndGlyphs" text-anchor="middle" >Jun 16</text>
<line x1="677.5" y1="523" x2="677.5" y2="988" stroke="#5b5b53" stroke-width="1" stroke-dasharray="6 4" shape-rendering="crispEdges"/>
<line x1="691.5" y1="523" x2="691.5" y2="988" stroke="#5b5b53" stroke-width="1" stroke-dasharray="6 4" shape-rendering="crispEdges"/>
<line x1="705.5" y1="523" x2="705.5" y2="988" stroke="#5b5b53" stroke-width="1" stroke-dasharray="6 4" shape-rendering="crispEdges"/>
<line x1="719.5" y1="523" x2="719.5" y2="988" stroke="#5b5b53" stroke-width="1" stroke-dasharray="6 4" shape-rendering="crispEdges"/>
<line x1="719.5" y1="988" x2="719.5" y2="991.5" stroke="#8a878d" stroke-width="1" shape-rendering="crispEdges"/>
<text x="719.5" y="1005.6" font-size="14" fill="#e6e6e6" textLength="46.0" lengthAdjust="spacingAndGlyphs" text-anchor="middle" >Jun 23</text>
<line x1="733.5" y1="523" x2="733.5" y2="988" stroke="#5b5b53" stroke-width="1" stroke-dasharray="6 4" shape-rendering="crispEdges"/>
<line x1="747.5" y1="523" x2="747.5" y2="988" stroke="#5b5b53" stroke-width="1" stroke-dasharray="6 4" shape-rendering="crispEdges"/>
<line x1="761.5" y1="523" x2="761.5" y2="988" stroke="#5b5b53" stroke-width="1" stroke-dasharray="6 4" shape-rendering="crispEdges"/>
<line x1="775.5" y1="523" x2="775.5" y2="988" stroke="#5b5b53" stroke-width="1" stroke-dasharray="6 4" shape-rendering="crispEdges"/>
<line x1="789.5" y1="523" x2="789.5" y2="988" stroke="#5b5b53" stroke-width="1" stroke-dasharray="6 4" shape-rendering="crispEdges"/>
<line x1="789.5" y1="988" x2="789.5" y2="991.5" stroke="#8a878d" stroke-width="1" shape-rendering="crispEdges"/>
<text x="789.5" y="1005.6" font-size="14" fill="#e6e6e6" textLength="46.0" lengthAdjust="spacingAndGlyphs" text-anchor="middle" >Jun 30</text>
<line x1="803.5" y1="523" x2="803.5" y2="988" stroke="#5b5b53" stroke-width="1" stroke-dasharray="6 4" shape-rendering="crispEdges"/>
<line x1="817.5" y1="523" x2="817.5" y2="988" stroke="#5b5b53" stroke-width="1" stroke-dasharray="6 4" shape-rendering="crispEdges"/>
<line x1="831.5" y1="523" x2="831.5" y2="988" stroke="#5b5b53" stroke-width="1" stroke-dasharray="6 4" shape-rendering="crispEdges"/>
<line x1="839.5" y1="523" x2="839.5" y2="988" stroke="#5b5b53" stroke-width="1" stroke-dasharray="6 4" shape-rendering="crispEdges"/>
<line x1="839.5" y1="988" x2="839.5" y2="991.5" stroke="#8a878d" stroke-width="1" shape-rendering="crispEdges"/>
<text x="839.5" y="1005.6" font-size="14" fill="#e6e6e6" textLength="31.0" lengthAdjust="spacingAndGlyphs" text-anchor="middle" >Jul 7</text>
<line x1="853.5" y1="523" x2="853.5" y2="988" stroke="#5b5b53" stroke-width="1" stroke-dasharray="6 4" shape-rendering="crispEdges"/>
<line x1="867.5" y1="523" x2="867.5" y2="988" stroke="#5b5b53" stroke-width="1" stroke-dasharray="6 4" shape-rendering="crispEdges"/>
<line x1="881.5" y1="523" x2="881.5" y2="988" stroke="#5b5b53" stroke-width="1" stroke-dasharray="6 4" shape-rendering="crispEdges"/>
<line x1="895.5" y1="523" x2="895.5" y2="988" stroke="#5b5b53" stroke-width="1" stroke-dasharray="6 4" shape-rendering="crispEdges"/>
<line x1="16" y1="571.5" x2="909" y2="571.5" stroke="#585a50" stroke-width="1" stroke-dasharray="6 4" shape-rendering="crispEdges"/>
<path d="M17 935v20M19 936v19M21 942v15M23 948v10M25 947v9M27 877v79M29 855v25M31 855v27M33 880v14M35 878v18M37 887v14M39 894v16M41 890v21M43 888v14M45 886v14M47 884v17M49 885v18M51 886v14M53 881v13M55 877v10M57 874v11M59 872v13M61 842v23M63 848v14M65 850v16M67 858v8M69 856v8M71 857v10M73 858v10M75 815v57M77 820v28M79 832v13M81 837v7M83 837v8M85 836v7M87 836v7M89 839v9M91 838v10M93 831v11M95 833v9M97 836v10M99 840v11M101 841v13M103 838v12M105 842v6M107 841v7M109 833v10M111 829v6M113 828v5M115 830v5M117 835v8M119 840v8M121 847v9M123 850v7M125 849v8M127 849v7M129 846v9M131 833v7M133 833v8M135 833v6M137 830v8M139 829v9M141 828v8M143 830v7M145 784v23M147 786v18M149 802v18M151 809v12M153 809v10M155 810v10M157 812v11M159 810v12M161 804v9M163 794v10M165 790v7M167 788v5M169 786v6M171 785v6M173 786v6M175 785v8M177 785v7M179 786v5M181 784v7M183 783v6M185 782v6M187 778v7M189 776v8M191 777v8M193 779v7M195 777v6M197 776v5M199 773v7M201 776v7M203 776v5M205 774v6M207 776v4M209 776v5M211 775v6M213 777v5M215 792v16M217 792v11M219 792v8M221 791v8M223 790v6M225 787v8M227 785v8M229 766v14M231 764v11M233 764v9M235 766v7M237 768v6M239 770v5M241 771v7M243 754v14M245 754v9M247 754v7M249 754v5M251 756v4M253 756v5M255 756v5M257 758v8M259 754v10M261 756v5M263 757v6M265 758v4M267 758v4M269 759v7M271 766v7M273 770v7M275 772v7M277 773v7M279 775v5M281 774v6M283 773v6M285 772v7M287 774v6M289 773v8M291 775v6M293 775v6M295 776v8M297 775v11M299 772v10M301 755v10M303 752v8M305 749v9M307 747v8M309 749v7M311 752v5M313 750v9M316 749v7M318 751v6M320 756v4M322 758v3M324 759v4M326 759v4M328 712v17M330 713v12M332 717v7M334 717v7M336 714v7M338 718v5M340 719v5M342 716v8M344 713v7M346 710v6M348 709v6M350 711v5M352 712v5M354 710v6M356 705v8M358 706v7M360 709v5M362 712v5M364 714v6M366 716v6M368 716v5M370 720v8M372 723v9M374 725v6M376 723v6M378 724v5M380 725v4M382 725v4M384 720v10M386 717v8M388 718v7M390 720v5M392 719v4M394 718v5M396 718v4M398 730v9M400 732v7M402 731v6M404 731v5M406 731v5M408 732v4M410 733v4M412 711v12M414 712v11M416 714v8M418 714v7M420 715v7M422 719v7M424 722v7M426 717v12M428 713v7M430 712v4M432 710v4M434 708v12M436 718v7M438 725v7M440 727v11M442 725v10M444 724v7M446 725v5M448 725v4M450 724v5M452 725v6M454 743v8M456 739v8M458 738v6M460 740v4M462 736v7M464 736v4M466 734v5M468 719v9M470 717v6M472 712v6M474 712v5M476 712v5M478 713v3M480 712v6M482 710v8M484 714v8M486 720v5M488 720v5M490 720v4M492 720v4M494 718v7M496 716v10M498 718v11M500 719v9M502 720v7M504 720v5M506 721v6M508 724v3M510 735v8M512 736v8M514 736v6M516 737v9M518 742v7M520 741v7M522 740v5M524 738v11M526 740v12M528 741v6M530 741v4M532 741v3M534 738v4M536 737v5M538 738v7M540 732v12M542 729v7M544 724v6M546 722v5M548 722v6M550 723v5M552 660v65M554 712v16M556 710v13M558 711v10M560 710v9M562 711v7M564 710v8M566 709v16M568 713v14M570 711v10M572 710v8M574 709v7M576 710v6M578 711v10M580 712v11M582 705v15M584 703v9M586 703v5M588 705v4M590 706v3M592 705v4M594 698v8M596 689v10M598 687v8M600 688v7M602 689v8M604 688v9M606 690v8M608 689v9M610 692v8M612 696v6M614 698v4M616 698v5M618 698v4M620 696v5M622 694v7M624 695v6M626 696v6M628 697v7M630 698v7M632 698v8M634 700v6M636 702v9M638 700v10M640 703v6M642 704v5M644 706v4M646 707v4M648 707v4M650 710v9M652 714v9M654 714v6M656 713v6M658 716v5M660 718v8M662 720v10M664 709v14M666 704v9M668 702v7M670 703v6M672 703v7M674 702v6M676 700v8M678 702v6M680 703v7M682 706v4M684 708v5M686 711v5M688 712v6M690 712v6M692 708v14M694 706v10M696 708v7M698 710v7M700 713v7M702 716v5M704 715v7M706 706v13M708 710v8M710 713v7M712 715v6M714 715v5M716 715v5M718 712v7M720 714v10M722 715v9M724 720v6M726 723v9M728 721v9M730 720v6M732 717v8M734 709v7M736 702v7M738 701v6M740 701v5M742 702v3M744 702v4M746 703v4M748 696v8M750 693v8M752 691v6M754 691v6M756 688v6M758 685v7M760 684v7M762 685v8M764 684v9M766 687v5M768 689v5M770 691v6M772 692v6M774 691v6M776 690v5M778 687v6M780 686v5M782 687v4M784 689v5M786 692v6M788 692v7M790 587v35M792 587v18M794 587v9M796 587v9M798 591v8M800 597v7M802 601v9M804 605v13M806 607v14M808 605v15M810 600v11M812 600v8M814 602v6M816 601v7M818 603v8M820 596v16M822 586v15M824 580v11M826 579v8M828 575v8M830 567v14M832 564v14M834 566v12M836 566v9M838 565v8M840 570v14M842 573v9M844 578v8M846 582v5M848 583v6M850 585v7M852 585v8M854 584v11M856 590v13M858 590v7M860 589v5M862 588v4M864 586v6M866 586v7M868 585v10M870 587v11M872 591v9M874 591v7M876 590v6M878 589v6M880 588v6M882 586v10M884 586v9M886 560v27M888 554v13M890 557v10M892 561v7M894 563v10M896 582v14M898 586v12M900 590v6M902 589v6M905 590v6M907 590v6" stroke="#ffffff" stroke-width="1" fill="none" shape-rendering="crispEdges" transform="translate(0.5,0)"/>
<path d="M25 949v4M27 894v56M29 860v18M37 894v5M45 888v7M53 884v6M57 879v3M61 846v18M65 856v5M73 861v6M75 828v40M77 825v21M79 837v6M83 840v4M89 840v5M91 841v4M95 835v5M99 844v5M103 841v5M111 831v3M115 832v2M119 843v3M135 834v3M139 832v5M143 832v4M145 792v13M159 815v5M165 794v2M177 787v3M179 787v3M183 785v3M191 780v3M193 781v3M197 777v3M203 776v3M211 776v3M221 794v3M241 772v3M245 755v4M247 756v2M253 757v2M255 758v2M259 759v4M263 758v3M265 759v2M277 774v3M279 777v2M281 775v2M283 774v2M297 776v6M305 750v5M307 749v4M316 751v3M322 759v2M326 760v2M328 718v4M332 719v3M334 719v4M336 717v3M342 717v5M344 717v2M346 711v3M368 718v2M374 727v3M378 726v2M388 721v2M396 720v2M398 732v5M406 733v2M412 715v6M422 721v3M442 727v5M444 726v2M460 741v2M462 738v3M468 722v4M470 719v2M476 714v2M478 713v2M494 720v3M504 721v2M508 725v2M520 743v2M536 738v3M538 740v3M560 711v4M564 711v5M570 715v3M582 712v5M586 704v3M588 705v2M590 707v2M596 690v6M602 693v2M616 699v3M622 696v3M630 700v3M632 699v3M634 702v3M640 704v3M650 713v5M652 716v3M662 721v5M664 713v4M678 703v3M694 708v6M696 709v4M698 712v3M704 716v4M706 710v8M716 717v2M728 723v4M730 721v2M736 705v3M740 703v2M742 703v2M744 704v2M750 698v2M754 694v2M756 689v2M758 687v3M760 686v2M762 686v4M764 686v3M772 694v2M776 692v3M788 694v4M790 597v22M796 589v3M798 593v4M814 604v3M820 601v6M822 590v8M828 575v5M830 572v8M832 569v8M848 585v3M850 586v3M852 589v3M860 590v2M872 596v3M874 592v4M876 592v2M886 564v21M888 556v6M894 567v5M902 591v3M905 592v2" stroke="#0a9a1a" stroke-width="1" fill="none" shape-rendering="crispEdges" transform="translate(0.5,0)"/>
<path d="M17 941v8M19 938v10M21 951v4M31 857v17M35 886v7M43 893v4M47 887v9M49 887v9M71 860v5M81 838v4M85 837v3M87 839v3M97 839v6M113 828v2M121 850v5M123 852v4M125 851v5M127 850v3M133 836v4M137 831v4M147 789v10M149 806v10M153 811v4M161 807v5M169 788v2M175 786v2M185 783v3M187 781v3M195 779v3M199 775v2M201 779v3M213 777v3M215 798v5M233 766v4M239 771v3M249 756v2M251 757v2M267 759v2M269 762v3M271 768v4M275 773v2M285 773v3M289 776v3M291 776v2M295 779v3M301 759v5M309 751v4M311 754v2M318 754v2M330 714v6M340 720v2M350 712v3M358 708v3M360 710v3M362 714v2M366 718v3M370 722v3M372 725v5M380 725v2M384 725v3M386 718v5M390 722v2M394 719v3M400 734v2M402 732v2M404 732v2M408 733v2M418 715v3M426 718v6M428 715v2M436 719v4M440 732v5M452 728v2M454 744v3M458 739v2M482 711v4M484 715v5M486 721v2M492 720v2M496 718v4M498 723v5M506 722v3M510 737v3M512 739v3M518 745v3M522 742v2M524 740v6M526 744v5M540 734v7M546 723v3M552 666v39M554 715v9M556 712v5M562 712v4M566 713v5M572 711v4M576 712v2M578 714v3M580 714v7M598 688v4M606 692v3M608 691v5M610 693v4M612 698v3M620 697v3M624 695v3M626 698v2M628 700v3M636 703v5M638 701v6M644 707v2M648 709v2M656 715v3M660 720v3M666 705v4M668 703v4M670 704v3M674 703v2M676 702v3M680 707v2M682 707v2M684 710v2M690 713v3M700 715v3M702 717v2M708 712v2M714 717v2M720 716v3M724 722v3M726 724v3M746 703v2M752 693v3M766 688v2M768 690v3M770 694v2M780 688v3M784 690v2M792 590v11M802 603v4M804 608v6M810 602v4M812 602v5M818 607v3M824 584v6M836 569v5M838 567v3M840 575v5M842 575v3M856 594v6M862 589v2M866 587v3M868 588v5M878 591v2M880 589v2M882 588v4M890 558v5M892 563v2M896 587v7M900 591v3M907 591v4" stroke="#d2141e" stroke-width="1" fill="none" shape-rendering="crispEdges" transform="translate(0.5,0)"/>
<path d="M23 952v3M51 889v3M59 875v3M105 845v2M109 835v3M117 838v3M129 851v2M141 831v3M151 815v3M171 786v2M181 787v2M189 779v3M205 776v3M209 777v3M217 795v3M219 795v2M229 767v3M231 768v3M235 767v3M261 756v3M299 777v3M320 756v2M324 760v2M348 711v2M352 714v2M356 708v3M364 715v3M376 725v3M414 715v3M432 711v2M438 727v3M448 726v2M464 737v2M474 713v2M488 722v2M542 730v2M548 725v3M550 725v2M584 707v3M592 706v2M614 699v2M686 713v2M688 713v3M692 711v3M718 714v2M732 722v2M734 712v3M748 699v3M774 692v3M786 694v3M794 590v3M834 569v3M854 589v3M864 588v3M870 591v3" stroke="#f0e010" stroke-width="1" fill="none" shape-rendering="crispEdges" transform="translate(0.5,0)"/>
<polyline points="16.7,865.3 21.6,872.1 27.0,878.8 40.4,886.9 53.9,899.0 60.6,903.9 67.4,904.4 73.3,903.1 80.9,895.0 91.6,885.6 102.4,879.6 116.7,866.7 124.5,859.1 130.7,857.3 144.7,847.8 150.9,842.4 172.5,828.4 186.5,820.9 200.8,811.4 214.8,804.2 228.6,795.3 242.6,785.8 256.6,779.1 260.1,777.2 270.9,775.0 284.9,774.2 290.0,773.8 298.6,773.2 310.7,770.3 324.5,765.1 341.8,755.6 359.0,747.9 376.3,741.0 384.9,737.5 397.5,729.7 411.7,726.3 422.9,722.0 431.5,720.3 436.7,721.5 450.5,722.8 460.9,726.3 469.5,726.3 476.4,724.9 497.1,724.6 512.6,724.6 524.7,728.0 535.1,730.1 552.3,730.1 566.1,726.8 583.4,726.3 593.8,724.2 600.0,722.5 609.1,719.5 622.7,713.4 634.0,708.2 648.8,705.2 668.1,705.2 677.2,704.3 695.3,704.8 706.7,708.2 720.3,710.0 729.4,712.3 747.5,712.3 763.4,707.7 775.9,706.4 788.4,704.3 792.9,698.0 803.1,687.7 815.6,673.0 829.2,654.8 838.3,643.5 847.4,631.0 861.0,616.2 872.4,604.9 888.2,589.5 895.1,587.4 907.5,586.3" fill="none" stroke="#1e96f4" stroke-width="1.2" stroke-linejoin="round" />
<line x1="16" y1="523.5" x2="910" y2="523.5" stroke="#625b68" stroke-width="1" shape-rendering="crispEdges"/>
<line x1="16.5" y1="523" x2="16.5" y2="989" stroke="#625b68" stroke-width="1" shape-rendering="crispEdges"/>
<line x1="16" y1="988.5" x2="910" y2="988.5" stroke="#8a878d" stroke-width="1" shape-rendering="crispEdges"/>
<line x1="909.5" y1="523" x2="909.5" y2="1010" stroke="#8a878d" stroke-width="1" shape-rendering="crispEdges"/>
<line x1="910" y1="541.5" x2="912" y2="541.5" stroke="#8a878d" stroke-width="1" shape-rendering="crispEdges"/>
<text x="915.9" y="546.8" font-size="14" fill="#e6e6e6" textLength="39.6" lengthAdjust="spacingAndGlyphs" text-anchor="start" >22.00</text>
<line x1="910" y1="562.5" x2="912" y2="562.5" stroke="#8a878d" stroke-width="1" shape-rendering="crispEdges"/>
<text x="915.9" y="567.9" font-size="14" fill="#e6e6e6" textLength="39.6" lengthAdjust="spacingAndGlyphs" text-anchor="start" >21.50</text>
<line x1="910" y1="583.5" x2="912" y2="583.5" stroke="#8a878d" stroke-width="1" shape-rendering="crispEdges"/>
<text x="915.9" y="589.1" font-size="14" fill="#e6e6e6" textLength="39.6" lengthAdjust="spacingAndGlyphs" text-anchor="start" >21.00</text>
<line x1="910" y1="604.5" x2="912" y2="604.5" stroke="#8a878d" stroke-width="1" shape-rendering="crispEdges"/>
<text x="915.9" y="610.2" font-size="14" fill="#e6e6e6" textLength="39.6" lengthAdjust="spacingAndGlyphs" text-anchor="start" >20.50</text>
<line x1="910" y1="625.5" x2="912" y2="625.5" stroke="#8a878d" stroke-width="1" shape-rendering="crispEdges"/>
<text x="915.9" y="631.4" font-size="14" fill="#e6e6e6" textLength="39.6" lengthAdjust="spacingAndGlyphs" text-anchor="start" >20.00</text>
<line x1="910" y1="647.5" x2="912" y2="647.5" stroke="#8a878d" stroke-width="1" shape-rendering="crispEdges"/>
<text x="915.9" y="652.5" font-size="14" fill="#e6e6e6" textLength="39.6" lengthAdjust="spacingAndGlyphs" text-anchor="start" >19.50</text>
<line x1="910" y1="668.5" x2="912" y2="668.5" stroke="#8a878d" stroke-width="1" shape-rendering="crispEdges"/>
<text x="915.9" y="673.7" font-size="14" fill="#e6e6e6" textLength="39.6" lengthAdjust="spacingAndGlyphs" text-anchor="start" >19.00</text>
<line x1="910" y1="689.5" x2="912" y2="689.5" stroke="#8a878d" stroke-width="1" shape-rendering="crispEdges"/>
<text x="915.9" y="694.8" font-size="14" fill="#e6e6e6" textLength="39.6" lengthAdjust="spacingAndGlyphs" text-anchor="start" >18.50</text>
<line x1="910" y1="710.5" x2="912" y2="710.5" stroke="#8a878d" stroke-width="1" shape-rendering="crispEdges"/>
<text x="915.9" y="716.0" font-size="14" fill="#e6e6e6" textLength="39.6" lengthAdjust="spacingAndGlyphs" text-anchor="start" >18.00</text>
<line x1="910" y1="731.5" x2="912" y2="731.5" stroke="#8a878d" stroke-width="1" shape-rendering="crispEdges"/>
<text x="915.9" y="737.1" font-size="14" fill="#e6e6e6" textLength="39.6" lengthAdjust="spacingAndGlyphs" text-anchor="start" >17.50</text>
<line x1="910" y1="752.5" x2="912" y2="752.5" stroke="#8a878d" stroke-width="1" shape-rendering="crispEdges"/>
<text x="915.9" y="758.3" font-size="14" fill="#e6e6e6" textLength="39.6" lengthAdjust="spacingAndGlyphs" text-anchor="start" >17.00</text>
<line x1="910" y1="773.5" x2="912" y2="773.5" stroke="#8a878d" stroke-width="1" shape-rendering="crispEdges"/>
<text x="915.9" y="779.4" font-size="14" fill="#e6e6e6" textLength="39.6" lengthAdjust="spacingAndGlyphs" text-anchor="start" >16.50</text>
<line x1="910" y1="795.5" x2="912" y2="795.5" stroke="#8a878d" stroke-width="1" shape-rendering="crispEdges"/>
<text x="915.9" y="800.6" font-size="14" fill="#e6e6e6" textLength="39.6" lengthAdjust="spacingAndGlyphs" text-anchor="start" >16.00</text>
<line x1="910" y1="816.5" x2="912" y2="816.5" stroke="#8a878d" stroke-width="1" shape-rendering="crispEdges"/>
<text x="915.9" y="821.8" font-size="14" fill="#e6e6e6" textLength="39.6" lengthAdjust="spacingAndGlyphs" text-anchor="start" >15.50</text>
<line x1="910" y1="837.5" x2="912" y2="837.5" stroke="#8a878d" stroke-width="1" shape-rendering="crispEdges"/>
<text x="915.9" y="842.9" font-size="14" fill="#e6e6e6" textLength="39.6" lengthAdjust="spacingAndGlyphs" text-anchor="start" >15.00</text>
<line x1="910" y1="858.5" x2="912" y2="858.5" stroke="#8a878d" stroke-width="1" shape-rendering="crispEdges"/>
<text x="915.9" y="864.0" font-size="14" fill="#e6e6e6" textLength="39.6" lengthAdjust="spacingAndGlyphs" text-anchor="start" >14.50</text>
<line x1="910" y1="879.5" x2="912" y2="879.5" stroke="#8a878d" stroke-width="1" shape-rendering="crispEdges"/>
<text x="915.9" y="885.2" font-size="14" fill="#e6e6e6" textLength="39.6" lengthAdjust="spacingAndGlyphs" text-anchor="start" >14.00</text>
<line x1="910" y1="900.5" x2="912" y2="900.5" stroke="#8a878d" stroke-width="1" shape-rendering="crispEdges"/>
<text x="915.9" y="906.3" font-size="14" fill="#e6e6e6" textLength="39.6" lengthAdjust="spacingAndGlyphs" text-anchor="start" >13.50</text>
<line x1="910" y1="922.5" x2="912" y2="922.5" stroke="#8a878d" stroke-width="1" shape-rendering="crispEdges"/>
<text x="915.9" y="927.5" font-size="14" fill="#e6e6e6" textLength="39.6" lengthAdjust="spacingAndGlyphs" text-anchor="start" >13.00</text>
<line x1="910" y1="943.5" x2="912" y2="943.5" stroke="#8a878d" stroke-width="1" shape-rendering="crispEdges"/>
<text x="915.9" y="948.6" font-size="14" fill="#e6e6e6" textLength="39.6" lengthAdjust="spacingAndGlyphs" text-anchor="start" >12.50</text>
<line x1="910" y1="964.5" x2="912" y2="964.5" stroke="#8a878d" stroke-width="1" shape-rendering="crispEdges"/>
<text x="915.9" y="969.8" font-size="14" fill="#e6e6e6" textLength="39.6" lengthAdjust="spacingAndGlyphs" text-anchor="start" >12.00</text>
<g clip-path="url(#clip3)">
<path d="M909.5 597.1l4.8 -3.2v-3.4q0 -2 2 -2h42.0q2 0 2 2v13.2q0 2 -2 2h-42.0q-2 0 -2 -2v-3.4z" fill="#cfcf36"/>
<text x="916.0" y="602.4" font-size="14" fill="#141400" textLength="39.4" lengthAdjust="spacingAndGlyphs" text-anchor="start" >20.69</text>
</g>
<path d="M912 1001.7l3.2 -3.2v2h3v2.4h-3v2z" fill="#8a868e"/>
<g transform="translate(1,958)"><path d="M0.3 0.8Q3.5 -0.8 7 0.8L7 2.2Q5.2 2.6 5 4V8Q5.2 9.4 7 9.8L7 11.2Q3.5 12.8 0.3 11.2L0.3 9.8Q2 9.4 2.2 8V4Q2 2.6 0.3 2.2Z" fill="#3f9bdc"/><path d="M12.5 5.8H5M7.6 3.6L5 5.8L7.6 8" fill="none" stroke="#14a83c" stroke-width="1.1"/></g>
<rect x="2" y="977" width="1" height="11" fill="#c9c9c9" shape-rendering="crispEdges"/>
<rect x="6" y="975" width="1" height="4" fill="#c9c9c9" shape-rendering="crispEdges"/>
<rect x="9" y="979" width="1" height="9" fill="#c9c9c9" shape-rendering="crispEdges"/>
<rect x="12" y="982" width="1" height="6" fill="#c9c9c9" shape-rendering="crispEdges"/>
<rect x="776" y="906" width="119" height="60" fill="#cdf5c0" fill-opacity="0.135"/>
<text x="783.8" y="920.9" font-size="12.2" fill="#1a0026" font-weight="bold" textLength="84.0" lengthAdjust="spacingAndGlyphs" text-anchor="start" >HPE@SMART</text>
<text x="784.4" y="921.5" font-size="12.2" fill="#ffffff" font-weight="bold" textLength="84.0" lengthAdjust="spacingAndGlyphs" text-anchor="start" >HPE@SMART</text>
<g transform="translate(874.5,913.6)"><path d="M3.2 3.2L6.9 7" stroke="#3b66a4" stroke-width="3.6" stroke-linecap="round" fill="none"/><circle cx="3.1" cy="3.1" r="3.3" fill="#3b66a4"/><path d="M3.2 3.2L6.9 7" stroke="#9fc6ee" stroke-width="2.3" stroke-linecap="round" fill="none"/><circle cx="3.1" cy="3.1" r="2.6" fill="#b5d5f5"/><path d="M3.3 3.3L-0.8 2.4L2.4 -0.8Z" fill="#3c2048"/><path d="M4.2 3.4L6.6 5.9" stroke="#e6f2ff" stroke-width="0.8" stroke-linecap="round" fill="none"/></g>
<line x1="784.9" y1="935" x2="802" y2="935" stroke="#6f7a68" stroke-width="1.6" stroke-dasharray="6.5 4" shape-rendering="crispEdges"/>
<text x="805.8" y="938.9" font-size="12.2" fill="#1a0026" textLength="66.6" lengthAdjust="spacingAndGlyphs" text-anchor="start" >Prior Close</text>
<text x="806.4" y="939.5" font-size="12.2" fill="#ffffff" textLength="66.6" lengthAdjust="spacingAndGlyphs" text-anchor="start" >Prior Close</text>
<g transform="translate(878.9,931.7)"><rect x="0.4" y="0.2" width="8" height="8" fill="#e6ebf6"/><path d="M1.9 4.3L3.7 6.3L6.9 2.3" fill="none" stroke="#1a5ed6" stroke-width="1.7"/></g>
<line x1="784.9" y1="954.9" x2="802" y2="954.9" stroke="#1eaaff" stroke-width="1.7" shape-rendering="crispEdges"/>
<text x="806.1" y="959.4" font-size="12.2" fill="#1a0026" textLength="51.0" lengthAdjust="spacingAndGlyphs" text-anchor="start" >SMA(50)</text>
<text x="806.7" y="960.0" font-size="12.2" fill="#ffffff" textLength="51.0" lengthAdjust="spacingAndGlyphs" text-anchor="start" >SMA(50)</text>
<g transform="translate(862.8,951.9)"><rect x="0.4" y="0.2" width="8" height="8" fill="#e6ebf6"/><path d="M1.9 4.3L3.7 6.3L6.9 2.3" fill="none" stroke="#1a5ed6" stroke-width="1.7"/></g>
<g transform="translate(876.4,952.6)"><path d="M3.2 3.2L6.9 7" stroke="#3b66a4" stroke-width="3.6" stroke-linecap="round" fill="none"/><circle cx="3.1" cy="3.1" r="3.3" fill="#3b66a4"/><path d="M3.2 3.2L6.9 7" stroke="#9fc6ee" stroke-width="2.3" stroke-linecap="round" fill="none"/><circle cx="3.1" cy="3.1" r="2.6" fill="#b5d5f5"/><path d="M3.3 3.3L-0.8 2.4L2.4 -0.8Z" fill="#3c2048"/><path d="M4.2 3.4L6.6 5.9" stroke="#e6f2ff" stroke-width="0.8" stroke-linecap="round" fill="none"/></g>
<line x1="976" y1="541.5" x2="1857" y2="541.5" stroke="#35283f" stroke-width="1" stroke-dasharray="2 2" shape-rendering="crispEdges"/>
<line x1="976" y1="573.5" x2="1857" y2="573.5" stroke="#35283f" stroke-width="1" stroke-dasharray="2 2" shape-rendering="crispEdges"/>
<line x1="976" y1="604.5" x2="1857" y2="604.5" stroke="#35283f" stroke-width="1" stroke-dasharray="2 2" shape-rendering="crispEdges"/>
<line x1="976" y1="635.5" x2="1857" y2="635.5" stroke="#35283f" stroke-width="1" stroke-dasharray="2 2" shape-rendering="crispEdges"/>
<line x1="976" y1="666.5" x2="1857" y2="666.5" stroke="#35283f" stroke-width="1" stroke-dasharray="2 2" shape-rendering="crispEdges"/>
<line x1="976" y1="697.5" x2="1857" y2="697.5" stroke="#35283f" stroke-width="1" stroke-dasharray="2 2" shape-rendering="crispEdges"/>
<line x1="976" y1="729.5" x2="1857" y2="729.5" stroke="#35283f" stroke-width="1" stroke-dasharray="2 2" shape-rendering="crispEdges"/>
<line x1="976" y1="760.5" x2="1857" y2="760.5" stroke="#35283f" stroke-width="1" stroke-dasharray="2 2" shape-rendering="crispEdges"/>
<line x1="976" y1="791.5" x2="1857" y2="791.5" stroke="#35283f" stroke-width="1" stroke-dasharray="2 2" shape-rendering="crispEdges"/>
<line x1="976" y1="822.5" x2="1857" y2="822.5" stroke="#35283f" stroke-width="1" stroke-dasharray="2 2" shape-rendering="crispEdges"/>
<line x1="976" y1="853.5" x2="1857" y2="853.5" stroke="#35283f" stroke-width="1" stroke-dasharray="2 2" shape-rendering="crispEdges"/>
<line x1="976" y1="885.5" x2="1857" y2="885.5" stroke="#35283f" stroke-width="1" stroke-dasharray="2 2" shape-rendering="crispEdges"/>
<line x1="976" y1="916.5" x2="1857" y2="916.5" stroke="#35283f" stroke-width="1" stroke-dasharray="2 2" shape-rendering="crispEdges"/>
<line x1="976" y1="947.5" x2="1857" y2="947.5" stroke="#35283f" stroke-width="1" stroke-dasharray="2 2" shape-rendering="crispEdges"/>
<line x1="1010.5" y1="523" x2="1010.5" y2="978" stroke="#35283f" stroke-width="1" stroke-dasharray="2 2" shape-rendering="crispEdges"/>
<line x1="1010.5" y1="978" x2="1010.5" y2="981.5" stroke="#8a878d" stroke-width="1" shape-rendering="crispEdges"/>
<text x="1010.5" y="995.8" font-size="14" fill="#e6e6e6" textLength="53.3" lengthAdjust="spacingAndGlyphs" text-anchor="middle" >Nov '23</text>
<line x1="1092.5" y1="523" x2="1092.5" y2="978" stroke="#35283f" stroke-width="1" stroke-dasharray="2 2" shape-rendering="crispEdges"/>
<line x1="1092.5" y1="978" x2="1092.5" y2="981.5" stroke="#8a878d" stroke-width="1" shape-rendering="crispEdges"/>
<text x="1092.5" y="995.8" font-size="14" fill="#e6e6e6" textLength="49.6" lengthAdjust="spacingAndGlyphs" text-anchor="middle" >Jan '24</text>
<line x1="1174.5" y1="523" x2="1174.5" y2="978" stroke="#35283f" stroke-width="1" stroke-dasharray="2 2" shape-rendering="crispEdges"/>
<line x1="1174.5" y1="978" x2="1174.5" y2="981.5" stroke="#8a878d" stroke-width="1" shape-rendering="crispEdges"/>
<text x="1174.5" y="995.8" font-size="14" fill="#e6e6e6" textLength="51.6" lengthAdjust="spacingAndGlyphs" text-anchor="middle" >Mar '24</text>
<line x1="1258.5" y1="523" x2="1258.5" y2="978" stroke="#35283f" stroke-width="1" stroke-dasharray="2 2" shape-rendering="crispEdges"/>
<line x1="1258.5" y1="978" x2="1258.5" y2="981.5" stroke="#8a878d" stroke-width="1" shape-rendering="crispEdges"/>
<text x="1258.5" y="995.8" font-size="14" fill="#e6e6e6" textLength="53.6" lengthAdjust="spacingAndGlyphs" text-anchor="middle" >May '24</text>
<line x1="1340.5" y1="523" x2="1340.5" y2="978" stroke="#35283f" stroke-width="1" stroke-dasharray="2 2" shape-rendering="crispEdges"/>
<line x1="1340.5" y1="978" x2="1340.5" y2="981.5" stroke="#8a878d" stroke-width="1" shape-rendering="crispEdges"/>
<text x="1340.5" y="995.8" font-size="14" fill="#e6e6e6" textLength="45.0" lengthAdjust="spacingAndGlyphs" text-anchor="middle" >Jul '24</text>
<line x1="1429.5" y1="523" x2="1429.5" y2="978" stroke="#35283f" stroke-width="1" stroke-dasharray="2 2" shape-rendering="crispEdges"/>
<line x1="1429.5" y1="978" x2="1429.5" y2="981.5" stroke="#8a878d" stroke-width="1" shape-rendering="crispEdges"/>
<text x="1429.5" y="995.8" font-size="14" fill="#e6e6e6" textLength="52.5" lengthAdjust="spacingAndGlyphs" text-anchor="middle" >Sep '24</text>
<line x1="1514.5" y1="523" x2="1514.5" y2="978" stroke="#35283f" stroke-width="1" stroke-dasharray="2 2" shape-rendering="crispEdges"/>
<line x1="1514.5" y1="978" x2="1514.5" y2="981.5" stroke="#8a878d" stroke-width="1" shape-rendering="crispEdges"/>
<text x="1514.5" y="995.8" font-size="14" fill="#e6e6e6" textLength="53.3" lengthAdjust="spacingAndGlyphs" text-anchor="middle" >Nov '24</text>
<line x1="1596.5" y1="523" x2="1596.5" y2="978" stroke="#35283f" stroke-width="1" stroke-dasharray="2 2" shape-rendering="crispEdges"/>
<line x1="1596.5" y1="978" x2="1596.5" y2="981.5" stroke="#8a878d" stroke-width="1" shape-rendering="crispEdges"/>
<text x="1596.5" y="995.8" font-size="14" fill="#e6e6e6" textLength="49.6" lengthAdjust="spacingAndGlyphs" text-anchor="middle" >Jan '25</text>
<line x1="1674.5" y1="523" x2="1674.5" y2="978" stroke="#35283f" stroke-width="1" stroke-dasharray="2 2" shape-rendering="crispEdges"/>
<line x1="1674.5" y1="978" x2="1674.5" y2="981.5" stroke="#8a878d" stroke-width="1" shape-rendering="crispEdges"/>
<text x="1674.5" y="995.8" font-size="14" fill="#e6e6e6" textLength="51.6" lengthAdjust="spacingAndGlyphs" text-anchor="middle" >Mar '25</text>
<line x1="1758.5" y1="523" x2="1758.5" y2="978" stroke="#35283f" stroke-width="1" stroke-dasharray="2 2" shape-rendering="crispEdges"/>
<line x1="1758.5" y1="978" x2="1758.5" y2="981.5" stroke="#8a878d" stroke-width="1" shape-rendering="crispEdges"/>
<text x="1758.5" y="995.8" font-size="14" fill="#e6e6e6" textLength="53.6" lengthAdjust="spacingAndGlyphs" text-anchor="middle" >May '25</text>
<line x1="1840.5" y1="523" x2="1840.5" y2="978" stroke="#35283f" stroke-width="1" stroke-dasharray="2 2" shape-rendering="crispEdges"/>
<line x1="976" y1="657.5" x2="1857" y2="657.5" stroke="#585a50" stroke-width="1" stroke-dasharray="6 4" shape-rendering="crispEdges"/>
<path d="M977 787v17M979 786v13M981 784v11M983 784v16M985 790v15M987 787v18M989 789v13M991 793v16M993 798v18M995 818v40M997 831v23M999 841v12M1001 843v11M1003 841v14M1005 841v13M1007 840v9M1009 838v10M1011 835v10M1013 831v8M1015 827v8M1017 823v8M1019 824v7M1021 826v8M1023 828v7M1025 824v10M1027 823v11M1029 804v16M1031 802v10M1033 817v15M1035 820v12M1037 824v9M1039 827v9M1041 827v9M1043 826v8M1045 828v9M1047 831v10M1049 797v29M1051 794v33M1053 789v12M1055 795v11M1057 809v15M1059 814v13M1061 818v14M1063 813v11M1065 807v12M1067 803v14M1069 802v13M1071 787v12M1073 790v11M1075 793v12M1077 794v9M1079 793v8M1081 791v9M1083 786v8M1085 782v9M1087 783v6M1089 785v6M1091 787v8M1093 790v11M1095 787v12M1097 784v12M1099 780v12M1101 768v20M1103 794v25M1105 800v18M1107 808v10M1109 809v16M1111 836v12M1113 836v12M1115 846v14M1117 841v14M1119 835v8M1121 831v8M1123 827v8M1125 823v9M1127 823v8M1129 823v9M1131 825v10M1133 835v17M1135 837v12M1137 839v10M1139 838v9M1141 840v9M1143 839v9M1145 838v8M1147 835v9M1149 831v9M1151 835v11M1153 840v12M1155 845v8M1157 847v9M1159 850v9M1161 851v10M1163 848v11M1165 848v10M1167 850v10M1169 851v10M1171 849v11M1173 848v11M1175 834v35M1177 781v48M1179 754v38M1181 696v55M1183 734v37M1185 739v26M1187 742v23M1189 731v42M1191 760v11M1193 764v12M1195 776v23M1197 781v21M1199 787v16M1201 791v16M1203 778v12M1205 776v11M1207 772v14M1209 770v11M1211 767v11M1213 764v9M1215 762v12M1217 757v16M1219 750v18M1221 742v18M1223 749v17M1225 749v15M1227 751v10M1229 758v12M1231 759v14M1233 764v17M1235 770v12M1237 773v18M1239 780v14M1241 782v12M1243 786v13M1245 792v10M1247 790v11M1249 790v9M1251 789v8M1253 785v10M1255 779v13M1257 780v12M1259 791v17M1261 798v17M1263 799v12M1265 794v8M1267 784v13M1269 786v12M1271 784v14M1273 783v12M1275 776v12M1277 768v12M1279 761v11M1281 759v12M1283 758v10M1285 758v11M1287 761v12M1289 760v11M1291 755v12M1293 736v17M1295 736v17M1297 740v13M1299 742v13M1301 763v20M1303 761v15M1305 761v13M1307 684v30M1309 693v30M1311 683v25M1313 678v21M1315 679v12M1317 664v13M1319 638v33M1321 639v21M1323 639v12M1325 610v39M1327 612v40M1329 656v30M1331 662v25M1333 660v26M1335 660v17M1337 659v13M1339 658v13M1341 660v14M1343 663v12M1345 665v17M1347 675v13M1349 670v8M1351 655v21M1353 649v22M1355 654v12M1357 654v14M1359 653v12M1361 653v10M1363 655v20M1365 665v15M1367 670v11M1369 673v10M1371 677v14M1373 677v17M1375 699v17M1377 698v17M1379 699v18M1381 704v22M1383 697v18M1385 698v37M1387 742v20M1389 775v15M1391 779v16M1393 779v23M1395 780v20M1397 780v12M1399 778v13M1401 768v15M1403 764v11M1405 737v19M1407 736v12M1409 735v10M1411 733v13M1413 730v15M1415 729v13M1417 725v9M1419 718v10M1421 715v13M1423 720v12M1425 724v13M1427 727v15M1429 712v13M1431 719v10M1433 729v15M1435 764v32M1437 764v20M1439 768v14M1441 807v16M1443 807v23M1445 793v23M1447 785v12M1449 783v12M1451 748v18M1453 742v13M1455 733v13M1457 730v12M1459 732v8M1461 730v7M1463 690v16M1465 686v14M1467 683v18M1469 689v13M1471 683v22M1473 676v17M1475 675v13M1477 671v15M1479 667v13M1481 667v9M1483 670v12M1485 675v11M1487 672v9M1489 668v11M1491 667v10M1493 667v9M1495 667v12M1497 667v16M1499 678v20M1501 700v12M1503 706v15M1505 706v14M1507 706v12M1509 702v11M1511 700v10M1513 665v27M1515 689v23M1517 688v9M1519 686v14M1521 686v15M1523 656v22M1525 647v8M1527 629v18M1529 624v15M1531 633v13M1533 634v16M1535 633v20M1537 647v21M1539 643v18M1541 652v20M1543 638v19M1545 634v15M1547 624v17M1549 620v15M1551 629v10M1553 654v22M1555 651v19M1557 652v16M1559 657v10M1561 632v22M1563 613v36M1565 569v48M1567 575v29M1569 608v37M1571 639v20M1573 632v12M1575 631v13M1577 637v14M1579 643v25M1581 643v38M1583 646v34M1585 652v26M1587 640v14M1589 636v12M1591 634v15M1593 643v13M1595 651v10M1597 652v11M1599 649v12M1601 642v11M1603 601v31M1605 604v24M1607 624v28M1609 605v46M1611 634v28M1613 610v20M1615 595v10M1617 586v15M1619 586v16M1621 582v21M1623 556v22M1625 560v10M1627 556v13M1629 590v34M1631 610v52M1633 629v17M1635 640v43M1637 649v18M1639 669v17M1641 675v11M1643 653v16M1645 646v14M1647 650v12M1649 653v13M1651 656v11M1653 656v15M1655 652v15M1657 641v19M1659 640v15M1661 639v8M1663 637v15M1665 640v24M1667 658v20M1669 675v16M1671 677v15M1673 679v25M1675 700v24M1677 715v18M1679 722v30M1681 733v8M1683 743v20M1685 829v27M1687 837v20M1689 839v17M1691 842v19M1693 839v20M1695 830v19M1697 825v13M1699 824v7M1701 807v14M1703 810v12M1705 809v16M1707 806v9M1709 805v8M1711 811v13M1713 822v12M1715 830v12M1717 836v10M1719 829v17M1721 817v25M1723 843v55M1725 906v43M1727 881v59M1729 881v61M1731 871v64M1733 884v26M1735 881v22M1737 851v25M1739 841v34M1741 847v20M1743 849v19M1745 849v15M1747 846v11M1749 813v29M1751 813v19M1753 810v10M1755 807v8M1757 809v12M1759 817v16M1761 797v13M1763 793v10M1765 797v9M1767 803v11M1769 806v12M1771 789v12M1773 787v13M1775 761v14M1777 756v13M1779 761v11M1781 767v11M1783 767v12M1785 767v12M1787 757v17M1789 765v16M1791 771v14M1793 778v13M1795 761v14M1797 762v12M1799 762v12M1801 779v12M1803 774v16M1805 767v19M1807 722v54M1809 756v17M1811 748v14M1813 744v12M1815 746v9M1817 750v9M1819 756v12M1821 758v15M1823 752v16M1825 753v13M1827 755v14M1829 756v15M1831 755v14M1833 749v9M1835 741v11M1837 741v10M1839 742v9M1841 672v23M1843 677v19M1845 652v39M1847 655v13M1849 661v14M1851 665v16M1853 668v12M1855 654v23" stroke="#ffffff" stroke-width="1" fill="none" shape-rendering="crispEdges" transform="translate(0.5,0)"/>
<path d="M979 790v7M989 790v7M997 837v15M1001 846v7M1007 844v4M1013 832v4M1015 829v5M1023 830v4M1025 826v7M1027 824v6M1029 805v11M1031 805v6M1037 825v5M1049 799v20M1051 802v23M1053 792v8M1057 813v6M1059 815v10M1063 818v4M1067 807v5M1069 803v8M1071 792v6M1073 794v6M1079 795v4M1087 784v4M1093 792v6M1101 771v16M1105 806v6M1117 846v6M1121 834v4M1123 829v3M1131 826v4M1133 840v6M1135 839v8M1139 839v5M1141 841v5M1145 839v4M1147 835v7M1153 844v6M1163 853v5M1165 849v5M1169 852v6M1175 846v19M1177 794v31M1179 767v21M1187 747v16M1203 781v7M1205 781v5M1207 778v6M1209 773v8M1211 768v8M1215 765v8M1217 763v8M1219 751v14M1221 747v9M1223 755v10M1231 761v8M1237 781v8M1241 786v6M1247 795v5M1249 792v6M1253 787v6M1261 802v7M1265 797v3M1269 787v8M1271 788v8M1275 779v6M1277 769v7M1281 764v6M1287 762v9M1289 762v8M1293 741v11M1297 745v7M1303 763v8M1311 689v17M1315 683v6M1319 647v13M1323 641v7M1333 662v14M1335 665v10M1337 662v6M1339 660v10M1341 664v9M1343 666v5M1349 671v5M1357 657v9M1367 671v8M1369 674v7M1377 700v11M1389 777v11M1397 782v7M1399 780v9M1401 772v5M1403 769v5M1409 737v6M1411 736v7M1413 731v12M1417 727v4M1437 767v8M1439 771v9M1443 814v9M1445 795v9M1447 789v7M1449 784v7M1451 750v8M1453 747v6M1455 735v6M1461 731v4M1463 695v6M1465 690v8M1469 690v6M1477 672v10M1481 668v5M1487 676v4M1493 668v6M1505 707v10M1507 708v6M1509 704v5M1511 702v7M1517 689v7M1519 687v11M1521 687v10M1523 658v14M1525 648v4M1533 638v9M1547 628v8M1549 625v8M1551 630v8M1555 654v9M1559 658v6M1563 623v23M1573 634v8M1583 652v26M1585 657v19M1587 642v11M1591 636v9M1593 645v8M1599 651v9M1601 644v6M1603 604v25M1607 627v14M1613 614v13M1615 597v5M1617 591v6M1619 589v8M1621 585v13M1625 562v7M1627 557v9M1643 654v13M1645 648v11M1651 661v5M1661 641v5M1667 661v14M1675 709v9M1689 842v13M1693 841v9M1695 834v13M1697 827v5M1701 810v10M1703 812v8M1707 808v6M1715 831v9M1719 834v8M1721 825v15M1727 895v40M1729 899v37M1731 887v42M1739 846v27M1743 850v15M1745 851v10M1747 850v5M1749 816v21M1751 817v11M1753 814v4M1755 809v6M1763 795v7M1765 798v5M1769 807v8M1775 766v7M1777 758v6M1785 771v7M1789 770v8M1793 780v10M1795 764v9M1803 776v8M1805 769v14M1811 751v9M1813 746v8M1823 755v7M1825 755v8M1831 760v5M1833 750v6M1835 741v8M1837 743v4M1841 675v16M1845 660v28M1847 659v5M1849 664v8M1853 670v9" stroke="#0a9a1a" stroke-width="1" fill="none" shape-rendering="crispEdges" transform="translate(0.5,0)"/>
<path d="M977 793v8M981 785v9M983 790v7M985 792v11M987 788v14M991 797v11M993 801v9M995 821v28M999 842v6M1003 846v5M1005 843v8M1017 824v4M1019 825v4M1021 828v5M1033 818v11M1035 822v9M1039 828v5M1041 831v3M1043 828v4M1045 829v4M1047 833v4M1055 796v8M1061 819v10M1065 809v5M1075 794v7M1081 793v7M1083 788v5M1089 785v4M1091 789v4M1099 782v5M1103 802v12M1109 812v11M1111 838v4M1113 837v6M1115 850v8M1127 825v5M1129 825v6M1137 840v7M1149 833v5M1151 838v5M1155 847v4M1157 850v4M1159 852v6M1161 855v4M1167 851v7M1171 850v6M1173 849v8M1183 738v23M1185 745v12M1189 735v27M1191 762v8M1193 765v7M1197 790v8M1201 794v12M1225 751v7M1227 754v4M1229 761v6M1233 767v8M1235 775v6M1239 782v11M1243 788v10M1245 794v6M1255 780v10M1257 782v8M1259 795v12M1263 800v8M1267 786v10M1273 785v9M1283 759v8M1285 760v5M1291 760v6M1295 737v13M1299 744v6M1301 766v13M1305 764v6M1307 686v24M1327 615v28M1329 668v15M1331 673v12M1345 672v8M1347 678v9M1351 663v12M1353 654v11M1363 665v7M1365 666v10M1371 679v8M1375 703v9M1379 701v10M1383 705v7M1385 700v27M1387 744v14M1391 781v10M1393 781v14M1395 783v11M1407 738v9M1415 731v5M1423 722v9M1425 727v9M1427 730v8M1429 716v7M1431 720v8M1435 775v15M1441 812v8M1457 731v8M1459 734v4M1467 690v8M1471 690v8M1479 670v6M1483 671v8M1485 678v4M1489 672v6M1491 668v6M1495 671v7M1497 669v9M1501 701v9M1503 710v10M1513 667v20M1515 694v12M1527 634v11M1529 625v10M1539 651v7M1543 639v14M1545 636v11M1553 660v8M1567 577v20M1569 612v21M1571 641v14M1575 635v8M1577 640v11M1579 650v13M1581 645v30M1595 652v7M1597 656v5M1605 609v15M1609 608v34M1623 565v10M1629 592v26M1631 614v37M1635 642v34M1639 673v11M1641 679v4M1647 652v8M1649 654v10M1653 661v5M1655 654v6M1657 646v11M1663 643v8M1665 644v14M1669 683v7M1671 681v8M1673 683v15M1677 719v10M1679 727v21M1681 734v4M1683 744v15M1685 832v19M1687 842v13M1699 826v4M1705 817v7M1709 808v4M1711 812v9M1717 839v5M1723 849v32M1725 909v31M1733 891v14M1735 885v11M1741 853v11M1757 814v4M1759 823v9M1761 800v7M1767 806v7M1779 762v6M1783 769v7M1791 773v11M1797 765v7M1799 767v5M1801 785v5M1807 728v31M1815 749v4M1819 757v9M1821 760v11M1827 756v11M1829 761v7M1839 743v4M1851 669v9M1855 656v17" stroke="#d2141e" stroke-width="1" fill="none" shape-rendering="crispEdges" transform="translate(0.5,0)"/>
<path d="M1097 787v3M1125 826v3M1199 789v3M1213 764v3M1251 790v3M1309 704v3M1361 655v3M1381 711v3M1405 742v3M1473 679v3M1475 676v3M1537 655v3M1557 653v3M1589 638v3M1611 638v3M1771 791v3M1773 793v3M1809 759v3M1843 681v3" stroke="#f0e010" stroke-width="1" fill="none" shape-rendering="crispEdges" transform="translate(0.5,0)"/>
<polyline points="976.8,819.5 996.7,818.0 1012.0,820.1 1036.5,821.0 1061.0,821.0 1082.4,818.9 1103.8,813.4 1125.2,814.0 1149.7,814.0 1175.7,810.9 1192.6,806.6 1220.1,803.6 1244.6,801.8 1266.0,801.8 1290.0,802.3 1290.5,801.1 1308.4,800.8 1335.9,792.5 1366.5,782.4 1397.1,776.3 1427.7,770.2 1458.3,764.1 1488.9,756.4 1514.9,750.9 1534.8,742.7 1559.3,730.4 1577.6,719.7 1596.0,715.1 1614.4,707.5 1625.4,702.6 1630.0,701.4 1648.1,694.6 1666.3,688.5 1677.6,686.2 1686.7,687.4 1704.9,691.2 1720.8,698.0 1738.9,707.1 1757.1,715.1 1770.7,719.6 1784.4,721.9 1798.0,720.7 1816.1,721.9 1829.8,723.5 1843.4,720.7 1855.9,717.3" fill="none" stroke="#8e8e8e" stroke-width="1.05" stroke-linejoin="round" />
<polyline points="976.8,785.8 987.5,785.8 999.8,793.5 1021.2,804.2 1039.6,811.8 1054.9,815.8 1067.1,820.1 1082.4,818.9 1094.6,816.4 1106.9,809.7 1119.1,811.8 1143.6,814.9 1158.9,821.0 1177.3,828.1 1189.5,823.2 1204.8,821.9 1220.1,813.4 1235.4,802.7 1250.7,793.5 1266.0,785.8 1278.2,778.8 1290.0,779.4 1290.5,779.1 1305.3,773.3 1320.6,759.5 1335.9,742.7 1351.2,724.3 1366.5,705.9 1378.7,695.2 1386.4,692.2 1397.1,696.2 1406.3,696.8 1418.5,702.9 1430.8,710.5 1443.0,724.3 1455.2,738.1 1464.4,741.8 1473.6,742.1 1485.8,737.5 1498.1,725.8 1510.3,718.2 1519.5,716.0 1534.8,701.4 1550.1,679.9 1565.4,667.7 1577.6,663.1 1592.9,660.0 1602.7,653.8 1608.2,649.3 1614.1,643.5 1625.4,632.6 1632.2,633.3 1648.1,635.6 1664.0,635.6 1675.4,643.5 1684.5,653.8 1693.5,671.9 1704.9,693.5 1716.2,718.5 1720.1,730.0 1725.3,745.7 1728.5,749.6 1739.7,774.7 1753.6,802.6 1764.8,819.4 1773.2,827.8 1781.6,831.4 1789.9,825.0 1803.9,817.2 1820.7,805.4 1837.4,783.1 1848.6,763.5 1855.6,753.7" fill="none" stroke="#999999" stroke-width="1.05" stroke-linejoin="round" />
<line x1="976" y1="523.5" x2="1858" y2="523.5" stroke="#625b68" stroke-width="1" shape-rendering="crispEdges"/>
<line x1="976.5" y1="523" x2="976.5" y2="979" stroke="#625b68" stroke-width="1" shape-rendering="crispEdges"/>
<line x1="976" y1="978.5" x2="1858" y2="978.5" stroke="#8a878d" stroke-width="1" shape-rendering="crispEdges"/>
<line x1="1857.5" y1="523" x2="1857.5" y2="1000" stroke="#8a878d" stroke-width="1" shape-rendering="crispEdges"/>
<line x1="1858" y1="541.5" x2="1860" y2="541.5" stroke="#8a878d" stroke-width="1" shape-rendering="crispEdges"/>
<text x="1863.4" y="547.9" font-size="14" fill="#e6e6e6" textLength="40.2" lengthAdjust="spacingAndGlyphs" text-anchor="start" >25.00</text>
<line x1="1858" y1="573.5" x2="1860" y2="573.5" stroke="#8a878d" stroke-width="1" shape-rendering="crispEdges"/>
<text x="1863.4" y="579.1" font-size="14" fill="#e6e6e6" textLength="40.2" lengthAdjust="spacingAndGlyphs" text-anchor="start" >24.00</text>
<line x1="1858" y1="604.5" x2="1860" y2="604.5" stroke="#8a878d" stroke-width="1" shape-rendering="crispEdges"/>
<text x="1863.4" y="610.3" font-size="14" fill="#e6e6e6" textLength="40.2" lengthAdjust="spacingAndGlyphs" text-anchor="start" >23.00</text>
<line x1="1858" y1="635.5" x2="1860" y2="635.5" stroke="#8a878d" stroke-width="1" shape-rendering="crispEdges"/>
<text x="1863.4" y="641.5" font-size="14" fill="#e6e6e6" textLength="40.2" lengthAdjust="spacingAndGlyphs" text-anchor="start" >22.00</text>
<line x1="1858" y1="666.5" x2="1860" y2="666.5" stroke="#8a878d" stroke-width="1" shape-rendering="crispEdges"/>
<text x="1863.4" y="672.7" font-size="14" fill="#e6e6e6" textLength="40.2" lengthAdjust="spacingAndGlyphs" text-anchor="start" >21.00</text>
<line x1="1858" y1="697.5" x2="1860" y2="697.5" stroke="#8a878d" stroke-width="1" shape-rendering="crispEdges"/>
<text x="1863.4" y="703.9" font-size="14" fill="#e6e6e6" textLength="40.2" lengthAdjust="spacingAndGlyphs" text-anchor="start" >20.00</text>
<line x1="1858" y1="729.5" x2="1860" y2="729.5" stroke="#8a878d" stroke-width="1" shape-rendering="crispEdges"/>
<text x="1863.4" y="735.1" font-size="14" fill="#e6e6e6" textLength="40.2" lengthAdjust="spacingAndGlyphs" text-anchor="start" >19.00</text>
<line x1="1858" y1="760.5" x2="1860" y2="760.5" stroke="#8a878d" stroke-width="1" shape-rendering="crispEdges"/>
<text x="1863.4" y="766.3" font-size="14" fill="#e6e6e6" textLength="40.2" lengthAdjust="spacingAndGlyphs" text-anchor="start" >18.00</text>
<line x1="1858" y1="791.5" x2="1860" y2="791.5" stroke="#8a878d" stroke-width="1" shape-rendering="crispEdges"/>
<text x="1863.4" y="797.5" font-size="14" fill="#e6e6e6" textLength="40.2" lengthAdjust="spacingAndGlyphs" text-anchor="start" >17.00</text>
<line x1="1858" y1="822.5" x2="1860" y2="822.5" stroke="#8a878d" stroke-width="1" shape-rendering="crispEdges"/>
<text x="1863.4" y="828.7" font-size="14" fill="#e6e6e6" textLength="40.2" lengthAdjust="spacingAndGlyphs" text-anchor="start" >16.00</text>
<line x1="1858" y1="853.5" x2="1860" y2="853.5" stroke="#8a878d" stroke-width="1" shape-rendering="crispEdges"/>
<text x="1863.4" y="859.9" font-size="14" fill="#e6e6e6" textLength="40.2" lengthAdjust="spacingAndGlyphs" text-anchor="start" >15.00</text>
<line x1="1858" y1="885.5" x2="1860" y2="885.5" stroke="#8a878d" stroke-width="1" shape-rendering="crispEdges"/>
<text x="1863.4" y="891.1" font-size="14" fill="#e6e6e6" textLength="40.2" lengthAdjust="spacingAndGlyphs" text-anchor="start" >14.00</text>
<line x1="1858" y1="916.5" x2="1860" y2="916.5" stroke="#8a878d" stroke-width="1" shape-rendering="crispEdges"/>
<text x="1863.4" y="922.3" font-size="14" fill="#e6e6e6" textLength="40.2" lengthAdjust="spacingAndGlyphs" text-anchor="start" >13.00</text>
<line x1="1858" y1="947.5" x2="1860" y2="947.5" stroke="#8a878d" stroke-width="1" shape-rendering="crispEdges"/>
<text x="1863.4" y="953.5" font-size="14" fill="#e6e6e6" textLength="40.2" lengthAdjust="spacingAndGlyphs" text-anchor="start" >12.00</text>
<path d="M1857.8 676.4l4.8 -3.2v-3.4q0 -2 2 -2h39.5q2 0 2 2v13.2q0 2 -2 2h-39.5q-2 0 -2 -2v-3.4z" fill="#cfcf36"/>
<text x="1864.3" y="681.7" font-size="14" fill="#141400" textLength="39.4" lengthAdjust="spacingAndGlyphs" text-anchor="start" >20.69</text>
<path d="M1859.6 991.2l3.2 -3.2v2h3v2.4h-3v2z" fill="#8a868e"/>
<g transform="translate(961.6,948.3)"><path d="M0.3 0.8Q3.5 -0.8 7 0.8L7 2.2Q5.2 2.6 5 4V8Q5.2 9.4 7 9.8L7 11.2Q3.5 12.8 0.3 11.2L0.3 9.8Q2 9.4 2.2 8V4Q2 2.6 0.3 2.2Z" fill="#3f9bdc"/><path d="M12.5 5.8H5M7.6 3.6L5 5.8L7.6 8" fill="none" stroke="#14a83c" stroke-width="1.1"/></g>
<rect x="959" y="970" width="1" height="8" fill="#c9c9c9" shape-rendering="crispEdges"/>
<rect x="962" y="967" width="1" height="11" fill="#c9c9c9" shape-rendering="crispEdges"/>
<rect x="966" y="965" width="1" height="4" fill="#c9c9c9" shape-rendering="crispEdges"/>
<rect x="969" y="969" width="1" height="9" fill="#c9c9c9" shape-rendering="crispEdges"/>
<rect x="972" y="972" width="1" height="6" fill="#c9c9c9" shape-rendering="crispEdges"/>
<rect x="990" y="537" width="219" height="60" fill="#cdf5c0" fill-opacity="0.135"/>
<text x="997.9" y="552.5" font-size="12.2" fill="#1a0026" font-weight="bold" textLength="84.0" lengthAdjust="spacingAndGlyphs" text-anchor="start" >HPE@SMART</text>
<text x="998.5" y="553.1" font-size="12.2" fill="#ffffff" font-weight="bold" textLength="84.0" lengthAdjust="spacingAndGlyphs" text-anchor="start" >HPE@SMART</text>
<g transform="translate(1088.5,545.2)"><path d="M3.2 3.2L6.9 7" stroke="#3b66a4" stroke-width="3.6" stroke-linecap="round" fill="none"/><circle cx="3.1" cy="3.1" r="3.3" fill="#3b66a4"/><path d="M3.2 3.2L6.9 7" stroke="#9fc6ee" stroke-width="2.3" stroke-linecap="round" fill="none"/><circle cx="3.1" cy="3.1" r="2.6" fill="#b5d5f5"/><path d="M3.3 3.3L-0.8 2.4L2.4 -0.8Z" fill="#3c2048"/><path d="M4.2 3.4L6.6 5.9" stroke="#e6f2ff" stroke-width="0.8" stroke-linecap="round" fill="none"/></g>
<line x1="999.1" y1="565.8" x2="1015.7" y2="565.8" stroke="#6f7a68" stroke-width="1.6" stroke-dasharray="6.5 4" shape-rendering="crispEdges"/>
<text x="1019.7" y="570.3" font-size="12.2" fill="#1a0026" textLength="67.2" lengthAdjust="spacingAndGlyphs" text-anchor="start" >Prior Close</text>
<text x="1020.3" y="570.9" font-size="12.2" fill="#ffffff" textLength="67.2" lengthAdjust="spacingAndGlyphs" text-anchor="start" >Prior Close</text>
<g transform="translate(1093.0,563.1)"><rect x="0.4" y="0.2" width="8" height="8" fill="#e6ebf6"/><path d="M1.9 4.3L3.7 6.3L6.9 2.3" fill="none" stroke="#1a5ed6" stroke-width="1.7"/></g>
<line x1="999.1" y1="586" x2="1015.7" y2="586" stroke="#a6ab9f" stroke-width="1.6" shape-rendering="crispEdges"/>
<text x="1019.7" y="590.1" font-size="12.2" fill="#1a0026" textLength="59.1" lengthAdjust="spacingAndGlyphs" text-anchor="start" >SMA(200)</text>
<text x="1020.3" y="590.7" font-size="12.2" fill="#ffffff" textLength="59.1" lengthAdjust="spacingAndGlyphs" text-anchor="start" >SMA(200)</text>
<g transform="translate(1085.1,582.9)"><rect x="0.4" y="0.2" width="8" height="8" fill="#e6ebf6"/><path d="M1.9 4.3L3.7 6.3L6.9 2.3" fill="none" stroke="#1a5ed6" stroke-width="1.7"/></g>
<g transform="translate(1098.7,583.6)"><path d="M3.2 3.2L6.9 7" stroke="#3b66a4" stroke-width="3.6" stroke-linecap="round" fill="none"/><circle cx="3.1" cy="3.1" r="3.3" fill="#3b66a4"/><path d="M3.2 3.2L6.9 7" stroke="#9fc6ee" stroke-width="2.3" stroke-linecap="round" fill="none"/><circle cx="3.1" cy="3.1" r="2.6" fill="#b5d5f5"/><path d="M3.3 3.3L-0.8 2.4L2.4 -0.8Z" fill="#3c2048"/><path d="M4.2 3.4L6.6 5.9" stroke="#e6f2ff" stroke-width="0.8" stroke-linecap="round" fill="none"/></g>
<line x1="1106.7" y1="586" x2="1124" y2="586" stroke="#a6ab9f" stroke-width="1.6" shape-rendering="crispEdges"/>
<text x="1127.8" y="590.1" font-size="12.2" fill="#1a0026" textLength="51.2" lengthAdjust="spacingAndGlyphs" text-anchor="start" >SMA(50)</text>
<text x="1128.4" y="590.7" font-size="12.2" fill="#ffffff" textLength="51.2" lengthAdjust="spacingAndGlyphs" text-anchor="start" >SMA(50)</text>
<g transform="translate(1185.0,582.9)"><rect x="0.4" y="0.2" width="8" height="8" fill="#e6ebf6"/><path d="M1.9 4.3L3.7 6.3L6.9 2.3" fill="none" stroke="#1a5ed6" stroke-width="1.7"/></g>
<g transform="translate(1198.2,583.6)"><path d="M3.2 3.2L6.9 7" stroke="#3b66a4" stroke-width="3.6" stroke-linecap="round" fill="none"/><circle cx="3.1" cy="3.1" r="3.3" fill="#3b66a4"/><path d="M3.2 3.2L6.9 7" stroke="#9fc6ee" stroke-width="2.3" stroke-linecap="round" fill="none"/><circle cx="3.1" cy="3.1" r="2.6" fill="#b5d5f5"/><path d="M3.3 3.3L-0.8 2.4L2.4 -0.8Z" fill="#3c2048"/><path d="M4.2 3.4L6.6 5.9" stroke="#e6f2ff" stroke-width="0.8" stroke-linecap="round" fill="none"/></g>
<path d="M1064.1 802.1l1.6 2.2h2.6" fill="none" stroke="#1fc6d6" stroke-width="1.6"/>
<path d="M1190.1 763.8l1.6 2.2h2.6" fill="none" stroke="#1fc6d6" stroke-width="1.6"/>
<path d="M1322.2 646.3l1.6 2.2h2.6" fill="none" stroke="#1fc6d6" stroke-width="1.6"/>
<path d="M1450.7 751.0l1.6 2.2h2.6" fill="none" stroke="#1fc6d6" stroke-width="1.6"/>
<path d="M1580.9 670.9l1.6 2.2h2.6" fill="none" stroke="#1fc6d6" stroke-width="1.6"/>
<path d="M1701.3 815.9l1.6 2.2h2.6" fill="none" stroke="#1fc6d6" stroke-width="1.6"/>
<path d="M1823.4 763.4l1.6 2.2h2.6" fill="none" stroke="#1fc6d6" stroke-width="1.6"/>
<path d="M675.2 702.1l1.6 2.2h2.6" fill="none" stroke="#1fc6d6" stroke-width="1.6"/>
<linearGradient id="tg0_0" gradientUnits="userSpaceOnUse" x1="0" y1="-6" x2="0" y2="17"><stop offset="0.0000" stop-color="#474747"/><stop offset="0.1304" stop-color="#3c3c3c"/><stop offset="0.3043" stop-color="#303030"/><stop offset="0.4348" stop-color="#383838"/><stop offset="0.5435" stop-color="#414141"/><stop offset="0.7826" stop-color="#414141"/><stop offset="0.9130" stop-color="#383838"/><stop offset="0.9565" stop-color="#383838"/><stop offset="0.9570" stop-color="#454643"/><stop offset="1.0000" stop-color="#454643"/></linearGradient>
<rect x="0" y="0" width="985" height="17" fill="url(#tg0_0)" />
<g transform="translate(2,-2)"><rect x="0" y="0" width="14" height="14" fill="#e6e4f2"/><path d="M0 4.5H14M0 9.5H14M4.5 0V14M9.5 0V14" stroke="#cfcde0" stroke-width="0.6"/><path d="M1 11.5L3.5 10L5.5 6.5L7.5 4L9 6.5L11 7.5L13.5 7" fill="none" stroke="#2a6fd8" stroke-width="1.2"/><path d="M1 5L3.5 3.5L6 5.5L8 6L10.5 3L13.5 1" fill="none" stroke="#22b022" stroke-width="1.2"/></g>
<text x="22.4" y="9.8" font-size="12" fill="#b9b9b9" font-weight="bold" textLength="214.2" lengthAdjust="spacingAndGlyphs" text-anchor="start" >HPE@SMART - 07/10-07/11 1 min bars</text>
<linearGradient id="cb969_0" x1="0" y1="0" x2="0" y2="1"><stop offset="0" stop-color="#9a5a4c"/><stop offset="1" stop-color="#7b3f33"/></linearGradient>
<rect x="969.2" y="-0.8" width="15.8" height="13.2" fill="url(#cb969_0)" stroke="#5e2f27" stroke-width="0.6"/>
<path d="M969.6 12.2V-0.4H984.8000000000001" fill="none" stroke="#e2c4ba" stroke-width="0.9" opacity="0.75"/>
<text x="977.2" y="10.0" font-size="13.5" fill="#ffffff" font-weight="bold" text-anchor="middle" stroke="#ffffff" stroke-width="0.5">x</text>
<path d="M941.1 3.5999999999999996v-3.4h3.4M949.7 0.19999999999999996h3.4v3.4M941.1 8.299999999999999v3.4h3.4M949.7 11.7h3.4v-3.4" fill="none" stroke="#7b7b7b" stroke-width="2" stroke-linejoin="round" stroke-linecap="round"/>
<linearGradient id="mn969_0" x1="0" y1="0" x2="0" y2="1"><stop offset="0" stop-color="#f2f6fa"/><stop offset="0.45" stop-color="#a9c2d8"/><stop offset="1" stop-color="#4f7da6"/></linearGradient>
<rect x="917.0" y="8.299999999999999" width="16.3" height="4.6" fill="url(#mn969_0)"/>
<linearGradient id="tg986_0" gradientUnits="userSpaceOnUse" x1="0" y1="-6" x2="0" y2="17"><stop offset="0.0000" stop-color="#474747"/><stop offset="0.1304" stop-color="#3c3c3c"/><stop offset="0.3043" stop-color="#303030"/><stop offset="0.4348" stop-color="#383838"/><stop offset="0.5435" stop-color="#414141"/><stop offset="0.7826" stop-color="#414141"/><stop offset="0.9130" stop-color="#383838"/><stop offset="0.9565" stop-color="#383838"/><stop offset="0.9570" stop-color="#454643"/><stop offset="1.0000" stop-color="#454643"/></linearGradient>
<rect x="986" y="0" width="925" height="17" fill="url(#tg986_0)" />
<g transform="translate(991.8,-2)"><rect x="0" y="0" width="14" height="14" fill="#e6e4f2"/><path d="M0 4.5H14M0 9.5H14M4.5 0V14M9.5 0V14" stroke="#cfcde0" stroke-width="0.6"/><path d="M1 11.5L3.5 10L5.5 6.5L7.5 4L9 6.5L11 7.5L13.5 7" fill="none" stroke="#2a6fd8" stroke-width="1.2"/><path d="M1 5L3.5 3.5L6 5.5L8 6L10.5 3L13.5 1" fill="none" stroke="#22b022" stroke-width="1.2"/></g>
<text x="1012.2" y="9.8" font-size="12" fill="#b9b9b9" font-weight="bold" textLength="221.5" lengthAdjust="spacingAndGlyphs" text-anchor="start" >HPE@SMART - 06/17-07/11 15 min bars</text>
<linearGradient id="cb1889_0" x1="0" y1="0" x2="0" y2="1"><stop offset="0" stop-color="#9a5a4c"/><stop offset="1" stop-color="#7b3f33"/></linearGradient>
<rect x="1889.2" y="-0.8" width="15.8" height="13.2" fill="url(#cb1889_0)" stroke="#5e2f27" stroke-width="0.6"/>
<path d="M1889.6000000000001 12.2V-0.4H1904.8" fill="none" stroke="#e2c4ba" stroke-width="0.9" opacity="0.75"/>
<text x="1897.2" y="10.0" font-size="13.5" fill="#ffffff" font-weight="bold" text-anchor="middle" stroke="#ffffff" stroke-width="0.5">x</text>
<path d="M1861.1000000000001 3.5999999999999996v-3.4h3.4M1869.7 0.19999999999999996h3.4v3.4M1861.1000000000001 8.299999999999999v3.4h3.4M1869.7 11.7h3.4v-3.4" fill="none" stroke="#7b7b7b" stroke-width="2" stroke-linejoin="round" stroke-linecap="round"/>
<linearGradient id="mn1889_0" x1="0" y1="0" x2="0" y2="1"><stop offset="0" stop-color="#f2f6fa"/><stop offset="0.45" stop-color="#a9c2d8"/><stop offset="1" stop-color="#4f7da6"/></linearGradient>
<rect x="1837.0" y="8.299999999999999" width="16.3" height="4.6" fill="url(#mn1889_0)"/>
<linearGradient id="tg0_494" gradientUnits="userSpaceOnUse" x1="0" y1="494" x2="0" y2="517"><stop offset="0.0000" stop-color="#474747"/><stop offset="0.1304" stop-color="#3c3c3c"/><stop offset="0.3043" stop-color="#303030"/><stop offset="0.4348" stop-color="#383838"/><stop offset="0.5435" stop-color="#414141"/><stop offset="0.7826" stop-color="#414141"/><stop offset="0.9130" stop-color="#383838"/><stop offset="0.9565" stop-color="#383838"/><stop offset="0.9570" stop-color="#454643"/><stop offset="1.0000" stop-color="#454643"/></linearGradient>
<rect x="0" y="494" width="955" height="23" fill="url(#tg0_494)" />
<g transform="translate(2,498)"><rect x="0" y="0" width="14" height="14" fill="#e6e4f2"/><path d="M0 4.5H14M0 9.5H14M4.5 0V14M9.5 0V14" stroke="#cfcde0" stroke-width="0.6"/><path d="M1 11.5L3.5 10L5.5 6.5L7.5 4L9 6.5L11 7.5L13.5 7" fill="none" stroke="#2a6fd8" stroke-width="1.2"/><path d="M1 5L3.5 3.5L6 5.5L8 6L10.5 3L13.5 1" fill="none" stroke="#22b022" stroke-width="1.2"/></g>
<text x="22.4" y="509.8" font-size="12" fill="#b9b9b9" font-weight="bold" textLength="218.5" lengthAdjust="spacingAndGlyphs" text-anchor="start" >HPE@SMART - 04/08-07/14 hourly bars</text>
<linearGradient id="cb942_499" x1="0" y1="0" x2="0" y2="1"><stop offset="0" stop-color="#9a5a4c"/><stop offset="1" stop-color="#7b3f33"/></linearGradient>
<rect x="942.2" y="499.2" width="15.8" height="13.2" fill="url(#cb942_499)" stroke="#5e2f27" stroke-width="0.6"/>
<path d="M942.6 512.2V499.59999999999997H957.8000000000001" fill="none" stroke="#e2c4ba" stroke-width="0.9" opacity="0.75"/>
<text x="950.2" y="510.0" font-size="13.5" fill="#ffffff" font-weight="bold" text-anchor="middle" stroke="#ffffff" stroke-width="0.5">x</text>
<path d="M914.1 503.59999999999997v-3.4h3.4M922.7 500.2h3.4v3.4M914.1 508.3v3.4h3.4M922.7 511.7h3.4v-3.4" fill="none" stroke="#7b7b7b" stroke-width="2" stroke-linejoin="round" stroke-linecap="round"/>
<linearGradient id="mn942_499" x1="0" y1="0" x2="0" y2="1"><stop offset="0" stop-color="#f2f6fa"/><stop offset="0.45" stop-color="#a9c2d8"/><stop offset="1" stop-color="#4f7da6"/></linearGradient>
<rect x="890.0" y="508.3" width="16.3" height="4.6" fill="url(#mn942_499)"/>
<linearGradient id="tg956_494" gradientUnits="userSpaceOnUse" x1="0" y1="494" x2="0" y2="517"><stop offset="0.0000" stop-color="#474747"/><stop offset="0.1304" stop-color="#3c3c3c"/><stop offset="0.3043" stop-color="#303030"/><stop offset="0.4348" stop-color="#383838"/><stop offset="0.5435" stop-color="#414141"/><stop offset="0.7826" stop-color="#414141"/><stop offset="0.9130" stop-color="#383838"/><stop offset="0.9565" stop-color="#383838"/><stop offset="0.9570" stop-color="#454643"/><stop offset="1.0000" stop-color="#454643"/></linearGradient>
<rect x="956" y="494" width="955" height="23" fill="url(#tg956_494)" />
<g transform="translate(961.8,498)"><rect x="0" y="0" width="14" height="14" fill="#e6e4f2"/><path d="M0 4.5H14M0 9.5H14M4.5 0V14M9.5 0V14" stroke="#cfcde0" stroke-width="0.6"/><path d="M1 11.5L3.5 10L5.5 6.5L7.5 4L9 6.5L11 7.5L13.5 7" fill="none" stroke="#2a6fd8" stroke-width="1.2"/><path d="M1 5L3.5 3.5L6 5.5L8 6L10.5 3L13.5 1" fill="none" stroke="#22b022" stroke-width="1.2"/></g>
<text x="982.2" y="509.8" font-size="12" fill="#ffffff" font-weight="bold" textLength="271.6" lengthAdjust="spacingAndGlyphs" text-anchor="start" >HPE@SMART - 2023/10/08-2025/07/13 daily bars</text>
<linearGradient id="cb1890_499" x1="0" y1="0" x2="0" y2="1"><stop offset="0" stop-color="#9a5a4c"/><stop offset="1" stop-color="#7b3f33"/></linearGradient>
<rect x="1890.0" y="499.2" width="15.8" height="13.2" fill="url(#cb1890_499)" stroke="#5e2f27" stroke-width="0.6"/>
<path d="M1890.4 512.2V499.59999999999997H1905.6" fill="none" stroke="#e2c4ba" stroke-width="0.9" opacity="0.75"/>
<text x="1898.0" y="510.0" font-size="13.5" fill="#ffffff" font-weight="bold" text-anchor="middle" stroke="#ffffff" stroke-width="0.5">x</text>
<path d="M1861.9 503.59999999999997v-3.4h3.4M1870.5 500.2h3.4v3.4M1861.9 508.3v3.4h3.4M1870.5 511.7h3.4v-3.4" fill="none" stroke="#7b7b7b" stroke-width="2" stroke-linejoin="round" stroke-linecap="round"/>
<linearGradient id="mn1890_499" x1="0" y1="0" x2="0" y2="1"><stop offset="0" stop-color="#f2f6fa"/><stop offset="0.45" stop-color="#a9c2d8"/><stop offset="1" stop-color="#4f7da6"/></linearGradient>
<rect x="1837.8" y="508.3" width="16.3" height="4.6" fill="url(#mn1890_499)"/>
<rect x="0" y="493" width="1912" height="1" fill="#000000" />
<rect x="985" y="0" width="1" height="493" fill="#000000" />
<rect x="955" y="494" width="1" height="519" fill="#000000" />
<rect x="1911" y="0" width="1" height="1013" fill="#0a0a0a" />
<rect x="956" y="1006" width="955" height="5" fill="#1d1d1d" />
<rect x="1612" y="1006" width="284" height="5" fill="#3b3b3b" />
<rect x="956" y="1006" width="15" height="5" fill="#cfcfcf" />
<rect x="956" y="1006" width="15" height="1" fill="#8a8a8a" />
<rect x="1610" y="1006" width="1" height="5" fill="#e8e8e8" />
<rect x="1611" y="1006" width="3" height="1" fill="#e8e8e8" />
<rect x="1897" y="1006" width="1" height="5" fill="#e8e8e8" />
<rect x="1894" y="1006" width="3" height="1" fill="#e8e8e8" />
<rect x="1899" y="1007" width="12" height="4" fill="#b9b9b9" />
<rect x="1098" y="1006" width="1" height="3" fill="#a8a8a8" />
<rect x="1102" y="1009" width="9" height="1" fill="#6a6a6a" />
<rect x="1115" y="1009" width="8" height="1" fill="#5a5a5a" />
<rect x="1227" y="1006" width="1" height="3" fill="#a8a8a8" />
<rect x="1231" y="1009" width="9" height="1" fill="#6a6a6a" />
<rect x="1244" y="1009" width="8" height="1" fill="#5a5a5a" />
<rect x="1357" y="1006" width="1" height="3" fill="#a8a8a8" />
<rect x="1361" y="1009" width="9" height="1" fill="#6a6a6a" />
<rect x="1374" y="1009" width="8" height="1" fill="#5a5a5a" />
<rect x="1486" y="1006" width="1" height="3" fill="#a8a8a8" />
<rect x="1490" y="1009" width="9" height="1" fill="#6a6a6a" />
<rect x="1503" y="1009" width="8" height="1" fill="#5a5a5a" />
<rect x="1615" y="1006" width="1" height="3" fill="#a8a8a8" />
<rect x="1619" y="1009" width="9" height="1" fill="#6a6a6a" />
<rect x="1632" y="1009" width="8" height="1" fill="#5a5a5a" />
<rect x="1738" y="1006" width="1" height="3" fill="#a8a8a8" />
<rect x="1742" y="1009" width="9" height="1" fill="#6a6a6a" />
<rect x="1755" y="1009" width="8" height="1" fill="#5a5a5a" />
<rect x="1862" y="1006" width="1" height="3" fill="#a8a8a8" />
<rect x="1866" y="1009" width="9" height="1" fill="#6a6a6a" />
<rect x="1879" y="1009" width="8" height="1" fill="#5a5a5a" />
<rect x="0" y="1011" width="1912" height="2" fill="#000000" />
</svg></body></html>
